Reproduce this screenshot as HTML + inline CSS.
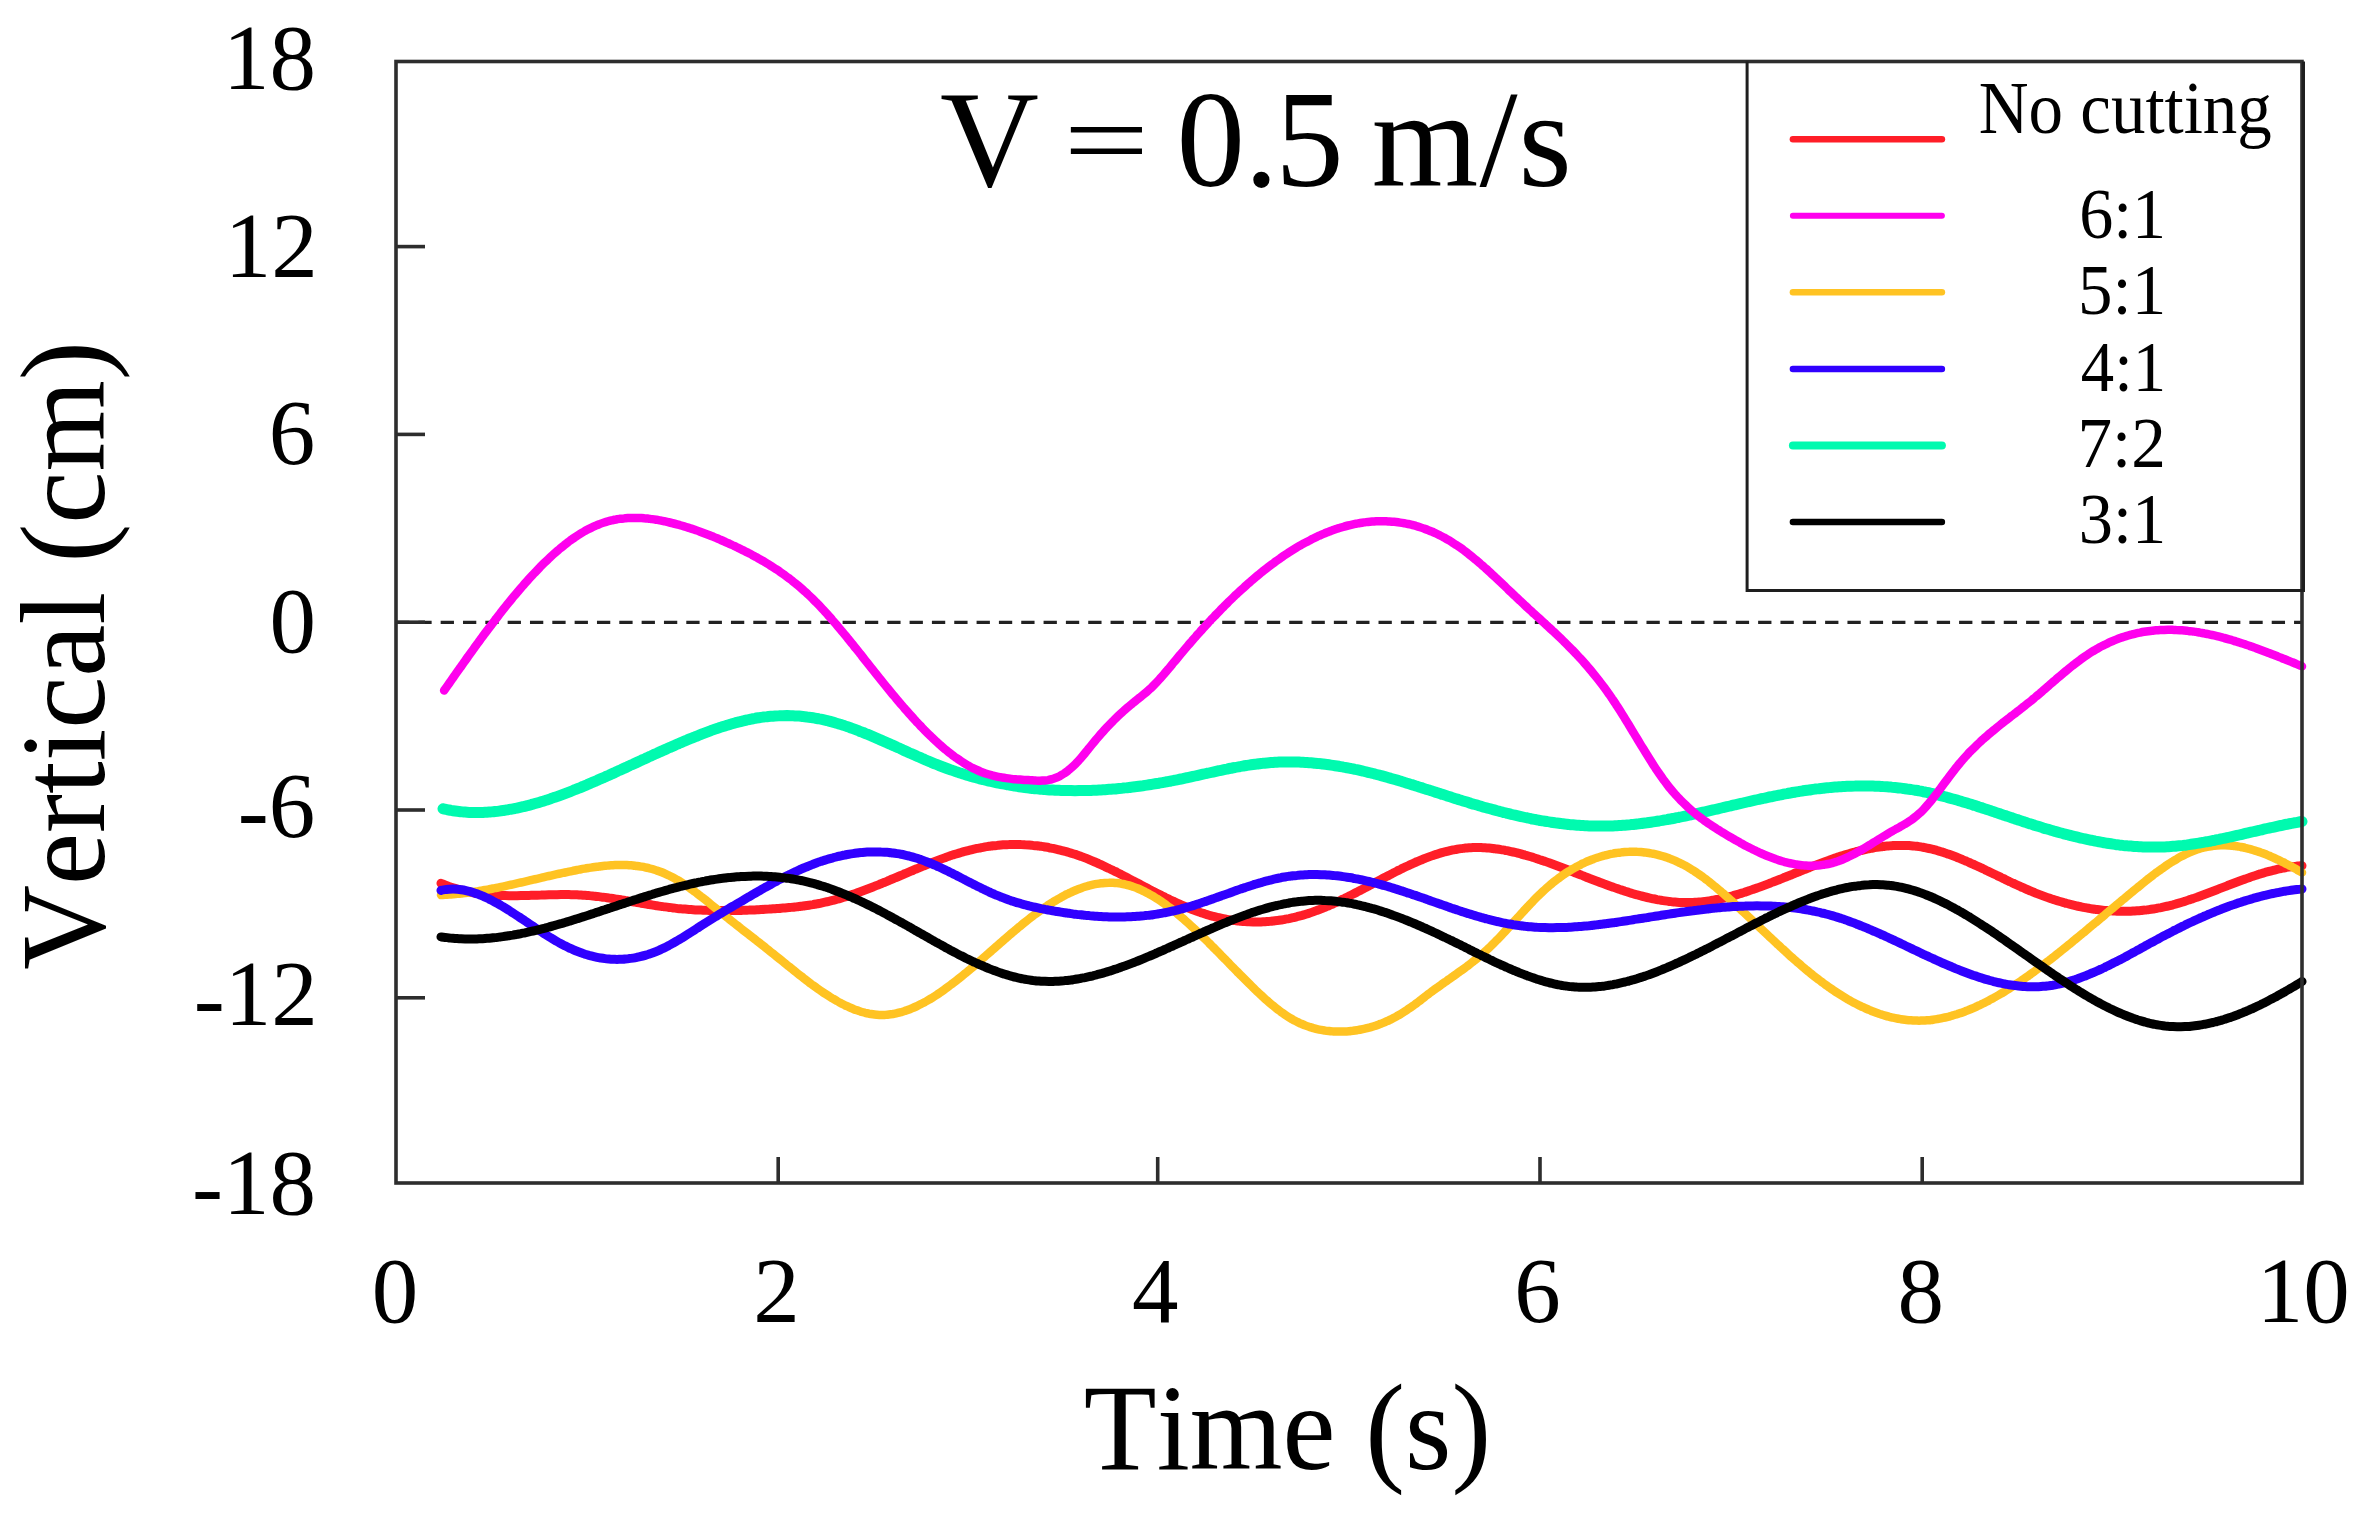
<!DOCTYPE html>
<html><head><meta charset="utf-8"><title>Vertical displacement V = 0.5 m/s</title>
<style>html,body{margin:0;padding:0;background:#fff;overflow:hidden}svg{display:block}text{font-kerning:none}</style>
</head><body>
<svg width="2365" height="1522" viewBox="0 0 2365 1522"><rect width="2365" height="1522" fill="#fff"/><line x1="396" y1="622.3" x2="2302" y2="622.3" stroke="#222" stroke-width="3.2" stroke-dasharray="13.3 9.03"/><path d="M441.0,883.3 C441.7,883.6 443.7,884.4 445.0,885.0 C446.3,885.5 447.7,886.0 449.0,886.5 C450.3,886.9 451.7,887.4 453.0,887.8 C454.3,888.2 455.7,888.6 457.0,889.0 C458.3,889.4 459.7,889.8 461.0,890.1 C462.3,890.5 463.7,890.8 465.0,891.1 C466.3,891.4 467.7,891.7 469.0,891.9 C470.3,892.2 471.7,892.5 473.0,892.7 C474.3,892.9 475.7,893.1 477.0,893.3 C478.3,893.6 479.7,893.7 481.0,893.9 C482.3,894.1 483.7,894.2 485.0,894.4 C486.3,894.5 487.7,894.6 489.0,894.8 C490.3,894.9 491.7,895.0 493.0,895.1 C494.3,895.2 495.7,895.2 497.0,895.3 C498.3,895.4 499.7,895.4 501.0,895.5 C502.3,895.5 503.7,895.6 505.0,895.6 C506.3,895.6 507.7,895.6 509.0,895.7 C510.3,895.7 511.7,895.7 513.0,895.7 C514.3,895.7 515.7,895.7 517.0,895.7 C518.3,895.6 519.7,895.6 521.0,895.6 C522.3,895.6 523.7,895.6 525.0,895.5 C526.3,895.5 527.7,895.5 529.0,895.4 C530.3,895.4 531.7,895.3 533.0,895.3 C534.3,895.3 535.7,895.2 537.0,895.2 C538.3,895.1 539.7,895.1 541.0,895.1 C542.3,895.0 543.7,895.0 545.0,894.9 C546.3,894.9 547.7,894.9 549.0,894.8 C550.3,894.8 551.7,894.8 553.0,894.7 C554.3,894.7 555.7,894.7 557.0,894.7 C558.3,894.6 559.7,894.6 561.0,894.6 C562.3,894.6 563.7,894.6 565.0,894.6 C566.3,894.6 567.7,894.6 569.0,894.6 C570.3,894.6 571.7,894.7 573.0,894.7 C574.3,894.7 575.7,894.8 577.0,894.8 C578.3,894.9 579.7,894.9 581.0,895.0 C582.3,895.1 583.7,895.2 585.0,895.3 C586.3,895.4 587.7,895.5 589.0,895.6 C590.3,895.7 591.7,895.8 593.0,896.0 C594.3,896.1 595.7,896.3 597.0,896.4 C598.3,896.6 599.7,896.7 601.0,896.9 C602.3,897.0 603.7,897.2 605.0,897.4 C606.3,897.6 607.7,897.8 609.0,898.0 C610.3,898.1 611.7,898.3 613.0,898.5 C614.3,898.7 615.7,899.0 617.0,899.2 C618.3,899.4 619.7,899.6 621.0,899.8 C622.3,900.0 623.7,900.2 625.0,900.5 C626.3,900.7 627.7,900.9 629.0,901.1 C630.3,901.4 631.7,901.6 633.0,901.8 C634.3,902.0 635.7,902.3 637.0,902.5 C638.3,902.7 639.7,902.9 641.0,903.2 C642.3,903.4 643.7,903.6 645.0,903.8 C646.3,904.1 647.7,904.3 649.0,904.5 C650.3,904.7 651.7,904.9 653.0,905.1 C654.3,905.4 655.7,905.6 657.0,905.8 C658.3,906.0 659.7,906.2 661.0,906.4 C662.3,906.6 663.7,906.7 665.0,906.9 C666.3,907.1 667.7,907.3 669.0,907.4 C670.3,907.6 671.7,907.8 673.0,907.9 C674.3,908.1 675.7,908.2 677.0,908.4 C678.3,908.5 679.7,908.6 681.0,908.8 C682.3,908.9 683.7,909.0 685.0,909.1 C686.3,909.2 687.7,909.3 689.0,909.4 C690.3,909.5 691.7,909.6 693.0,909.7 C694.3,909.8 695.7,909.9 697.0,909.9 C698.3,910.0 699.7,910.1 701.0,910.1 C702.3,910.2 703.7,910.2 705.0,910.3 C706.3,910.3 707.7,910.4 709.0,910.4 C710.3,910.5 711.7,910.5 713.0,910.5 C714.3,910.5 715.7,910.6 717.0,910.6 C718.3,910.6 719.7,910.6 721.0,910.6 C722.3,910.6 723.7,910.6 725.0,910.6 C726.3,910.6 727.7,910.6 729.0,910.6 C730.3,910.6 731.7,910.6 733.0,910.5 C734.3,910.5 735.7,910.5 737.0,910.5 C738.3,910.4 739.7,910.4 741.0,910.4 C742.3,910.3 743.7,910.3 745.0,910.2 C746.3,910.2 747.7,910.1 749.0,910.1 C750.3,910.0 751.7,910.0 753.0,909.9 C754.3,909.9 755.7,909.8 757.0,909.7 C758.3,909.7 759.7,909.6 761.0,909.5 C762.3,909.5 763.7,909.4 765.0,909.3 C766.3,909.2 767.7,909.1 769.0,909.1 C770.3,909.0 771.7,908.9 773.0,908.8 C774.3,908.7 775.7,908.6 777.0,908.5 C778.3,908.4 779.7,908.4 781.0,908.2 C782.3,908.1 783.7,908.0 785.0,907.9 C786.3,907.8 787.7,907.7 789.0,907.6 C790.3,907.5 791.7,907.3 793.0,907.2 C794.3,907.1 795.7,906.9 797.0,906.8 C798.3,906.6 799.7,906.5 801.0,906.3 C802.3,906.1 803.7,906.0 805.0,905.8 C806.3,905.6 807.7,905.4 809.0,905.2 C810.3,905.0 811.7,904.8 813.0,904.6 C814.3,904.3 815.7,904.1 817.0,903.9 C818.3,903.6 819.7,903.4 821.0,903.1 C822.3,902.8 823.7,902.5 825.0,902.2 C826.3,901.9 827.7,901.6 829.0,901.3 C830.3,901.0 831.7,900.7 833.0,900.3 C834.3,900.0 835.7,899.6 837.0,899.2 C838.3,898.9 839.7,898.5 841.0,898.1 C842.3,897.7 843.7,897.3 845.0,896.9 C846.3,896.5 847.7,896.1 849.0,895.6 C850.3,895.2 851.7,894.8 853.0,894.3 C854.3,893.9 855.7,893.4 857.0,892.9 C858.3,892.5 859.7,892.0 861.0,891.5 C862.3,891.0 863.7,890.5 865.0,890.0 C866.3,889.5 867.7,889.0 869.0,888.5 C870.3,888.0 871.7,887.5 873.0,887.0 C874.3,886.5 875.7,885.9 877.0,885.4 C878.3,884.9 879.7,884.3 881.0,883.8 C882.3,883.2 883.7,882.7 885.0,882.1 C886.3,881.6 887.7,881.0 889.0,880.5 C890.3,879.9 891.7,879.3 893.0,878.8 C894.3,878.2 895.7,877.7 897.0,877.1 C898.3,876.5 899.7,876.0 901.0,875.4 C902.3,874.8 903.7,874.3 905.0,873.7 C906.3,873.1 907.7,872.6 909.0,872.0 C910.3,871.4 911.7,870.9 913.0,870.3 C914.3,869.7 915.7,869.2 917.0,868.6 C918.3,868.1 919.7,867.5 921.0,867.0 C922.3,866.4 923.7,865.9 925.0,865.3 C926.3,864.8 927.7,864.2 929.0,863.7 C930.3,863.2 931.7,862.7 933.0,862.1 C934.3,861.6 935.7,861.1 937.0,860.6 C938.3,860.1 939.7,859.6 941.0,859.1 C942.3,858.6 943.7,858.1 945.0,857.7 C946.3,857.2 947.7,856.7 949.0,856.3 C950.3,855.8 951.7,855.4 953.0,854.9 C954.3,854.5 955.7,854.1 957.0,853.7 C958.3,853.3 959.7,852.9 961.0,852.5 C962.3,852.1 963.7,851.7 965.0,851.3 C966.3,851.0 967.7,850.6 969.0,850.3 C970.3,850.0 971.7,849.6 973.0,849.3 C974.3,849.0 975.7,848.7 977.0,848.4 C978.3,848.2 979.7,847.9 981.0,847.7 C982.3,847.4 983.7,847.2 985.0,846.9 C986.3,846.7 987.7,846.5 989.0,846.3 C990.3,846.1 991.7,846.0 993.0,845.8 C994.3,845.6 995.7,845.5 997.0,845.4 C998.3,845.2 999.7,845.1 1001.0,845.0 C1002.3,844.9 1003.7,844.8 1005.0,844.7 C1006.3,844.7 1007.7,844.6 1009.0,844.6 C1010.3,844.5 1011.7,844.5 1013.0,844.5 C1014.3,844.5 1015.7,844.5 1017.0,844.5 C1018.3,844.5 1019.7,844.5 1021.0,844.6 C1022.3,844.6 1023.7,844.7 1025.0,844.8 C1026.3,844.8 1027.7,844.9 1029.0,845.0 C1030.3,845.1 1031.7,845.2 1033.0,845.4 C1034.3,845.5 1035.7,845.6 1037.0,845.8 C1038.3,846.0 1039.7,846.1 1041.0,846.3 C1042.3,846.5 1043.7,846.7 1045.0,847.0 C1046.3,847.2 1047.7,847.4 1049.0,847.7 C1050.3,847.9 1051.7,848.2 1053.0,848.4 C1054.3,848.7 1055.7,849.0 1057.0,849.3 C1058.3,849.6 1059.7,850.0 1061.0,850.3 C1062.3,850.6 1063.7,851.0 1065.0,851.3 C1066.3,851.7 1067.7,852.1 1069.0,852.5 C1070.3,852.9 1071.7,853.3 1073.0,853.7 C1074.3,854.1 1075.7,854.6 1077.0,855.0 C1078.3,855.5 1079.7,856.0 1081.0,856.4 C1082.3,856.9 1083.7,857.4 1085.0,857.9 C1086.3,858.4 1087.7,859.0 1089.0,859.5 C1090.3,860.1 1091.7,860.6 1093.0,861.2 C1094.3,861.7 1095.7,862.3 1097.0,862.9 C1098.3,863.5 1099.7,864.1 1101.0,864.7 C1102.3,865.3 1103.7,865.9 1105.0,866.6 C1106.3,867.2 1107.7,867.8 1109.0,868.5 C1110.3,869.1 1111.7,869.8 1113.0,870.4 C1114.3,871.1 1115.7,871.7 1117.0,872.4 C1118.3,873.1 1119.7,873.8 1121.0,874.4 C1122.3,875.1 1123.7,875.8 1125.0,876.5 C1126.3,877.2 1127.7,877.9 1129.0,878.6 C1130.3,879.3 1131.7,880.0 1133.0,880.7 C1134.3,881.4 1135.7,882.1 1137.0,882.8 C1138.3,883.5 1139.7,884.2 1141.0,884.9 C1142.3,885.6 1143.7,886.3 1145.0,887.0 C1146.3,887.7 1147.7,888.4 1149.0,889.1 C1150.3,889.8 1151.7,890.5 1153.0,891.2 C1154.3,891.9 1155.7,892.6 1157.0,893.3 C1158.3,893.9 1159.7,894.6 1161.0,895.3 C1162.3,896.0 1163.7,896.6 1165.0,897.3 C1166.3,897.9 1167.7,898.6 1169.0,899.2 C1170.3,899.9 1171.7,900.5 1173.0,901.2 C1174.3,901.8 1175.7,902.4 1177.0,903.0 C1178.3,903.6 1179.7,904.2 1181.0,904.8 C1182.3,905.4 1183.7,906.0 1185.0,906.5 C1186.3,907.1 1187.7,907.7 1189.0,908.2 C1190.3,908.7 1191.7,909.3 1193.0,909.8 C1194.3,910.3 1195.7,910.8 1197.0,911.3 C1198.3,911.8 1199.7,912.2 1201.0,912.7 C1202.3,913.1 1203.7,913.6 1205.0,914.0 C1206.3,914.4 1207.7,914.8 1209.0,915.2 C1210.3,915.6 1211.7,916.0 1213.0,916.3 C1214.3,916.7 1215.7,917.0 1217.0,917.3 C1218.3,917.6 1219.7,917.9 1221.0,918.2 C1222.3,918.5 1223.7,918.8 1225.0,919.0 C1226.3,919.3 1227.7,919.5 1229.0,919.8 C1230.3,920.0 1231.7,920.2 1233.0,920.4 C1234.3,920.6 1235.7,920.7 1237.0,920.9 C1238.3,921.0 1239.7,921.2 1241.0,921.3 C1242.3,921.4 1243.7,921.5 1245.0,921.6 C1246.3,921.7 1247.7,921.8 1249.0,921.8 C1250.3,921.9 1251.7,921.9 1253.0,921.9 C1254.3,922.0 1255.7,922.0 1257.0,922.0 C1258.3,921.9 1259.7,921.9 1261.0,921.9 C1262.3,921.8 1263.7,921.8 1265.0,921.7 C1266.3,921.6 1267.7,921.5 1269.0,921.4 C1270.3,921.3 1271.7,921.2 1273.0,921.0 C1274.3,920.9 1275.7,920.7 1277.0,920.6 C1278.3,920.4 1279.7,920.2 1281.0,920.0 C1282.3,919.8 1283.7,919.6 1285.0,919.3 C1286.3,919.1 1287.7,918.8 1289.0,918.6 C1290.3,918.3 1291.7,918.0 1293.0,917.7 C1294.3,917.4 1295.7,917.1 1297.0,916.7 C1298.3,916.4 1299.7,916.0 1301.0,915.7 C1302.3,915.3 1303.7,914.9 1305.0,914.5 C1306.3,914.1 1307.7,913.7 1309.0,913.2 C1310.3,912.8 1311.7,912.4 1313.0,911.9 C1314.3,911.4 1315.7,910.9 1317.0,910.4 C1318.3,910.0 1319.7,909.4 1321.0,908.9 C1322.3,908.4 1323.7,907.8 1325.0,907.3 C1326.3,906.7 1327.7,906.2 1329.0,905.6 C1330.3,905.0 1331.7,904.4 1333.0,903.8 C1334.3,903.2 1335.7,902.6 1337.0,902.0 C1338.3,901.4 1339.7,900.7 1341.0,900.1 C1342.3,899.4 1343.7,898.8 1345.0,898.1 C1346.3,897.5 1347.7,896.8 1349.0,896.1 C1350.3,895.5 1351.7,894.8 1353.0,894.1 C1354.3,893.4 1355.7,892.7 1357.0,892.1 C1358.3,891.4 1359.7,890.7 1361.0,890.0 C1362.3,889.3 1363.7,888.6 1365.0,887.9 C1366.3,887.2 1367.7,886.4 1369.0,885.7 C1370.3,885.0 1371.7,884.3 1373.0,883.6 C1374.3,882.9 1375.7,882.2 1377.0,881.5 C1378.3,880.8 1379.7,880.1 1381.0,879.4 C1382.3,878.7 1383.7,878.0 1385.0,877.3 C1386.3,876.6 1387.7,875.9 1389.0,875.2 C1390.3,874.5 1391.7,873.8 1393.0,873.1 C1394.3,872.5 1395.7,871.8 1397.0,871.1 C1398.3,870.4 1399.7,869.8 1401.0,869.1 C1402.3,868.5 1403.7,867.8 1405.0,867.2 C1406.3,866.6 1407.7,865.9 1409.0,865.3 C1410.3,864.7 1411.7,864.1 1413.0,863.5 C1414.3,862.9 1415.7,862.3 1417.0,861.7 C1418.3,861.1 1419.7,860.6 1421.0,860.0 C1422.3,859.5 1423.7,859.0 1425.0,858.4 C1426.3,857.9 1427.7,857.4 1429.0,856.9 C1430.3,856.4 1431.7,855.9 1433.0,855.5 C1434.3,855.0 1435.7,854.6 1437.0,854.2 C1438.3,853.7 1439.7,853.3 1441.0,852.9 C1442.3,852.5 1443.7,852.2 1445.0,851.8 C1446.3,851.5 1447.7,851.1 1449.0,850.8 C1450.3,850.5 1451.7,850.2 1453.0,849.9 C1454.3,849.7 1455.7,849.4 1457.0,849.2 C1458.3,849.0 1459.7,848.8 1461.0,848.6 C1462.3,848.4 1463.7,848.3 1465.0,848.1 C1466.3,848.0 1467.7,847.9 1469.0,847.8 C1470.3,847.7 1471.7,847.7 1473.0,847.6 C1474.3,847.6 1475.7,847.6 1477.0,847.6 C1478.3,847.6 1479.7,847.6 1481.0,847.6 C1482.3,847.7 1483.7,847.7 1485.0,847.8 C1486.3,847.9 1487.7,848.0 1489.0,848.1 C1490.3,848.2 1491.7,848.4 1493.0,848.5 C1494.3,848.7 1495.7,848.8 1497.0,849.0 C1498.3,849.2 1499.7,849.4 1501.0,849.6 C1502.3,849.8 1503.7,850.1 1505.0,850.3 C1506.3,850.6 1507.7,850.8 1509.0,851.1 C1510.3,851.4 1511.7,851.7 1513.0,852.0 C1514.3,852.3 1515.7,852.6 1517.0,852.9 C1518.3,853.3 1519.7,853.6 1521.0,854.0 C1522.3,854.3 1523.7,854.7 1525.0,855.1 C1526.3,855.4 1527.7,855.8 1529.0,856.2 C1530.3,856.6 1531.7,857.0 1533.0,857.4 C1534.3,857.9 1535.7,858.3 1537.0,858.7 C1538.3,859.2 1539.7,859.6 1541.0,860.1 C1542.3,860.5 1543.7,861.0 1545.0,861.4 C1546.3,861.9 1547.7,862.4 1549.0,862.8 C1550.3,863.3 1551.7,863.8 1553.0,864.3 C1554.3,864.8 1555.7,865.3 1557.0,865.8 C1558.3,866.3 1559.7,866.8 1561.0,867.3 C1562.3,867.8 1563.7,868.3 1565.0,868.8 C1566.3,869.3 1567.7,869.8 1569.0,870.3 C1570.3,870.9 1571.7,871.4 1573.0,871.9 C1574.3,872.4 1575.7,872.9 1577.0,873.5 C1578.3,874.0 1579.7,874.5 1581.0,875.0 C1582.3,875.6 1583.7,876.1 1585.0,876.6 C1586.3,877.1 1587.7,877.6 1589.0,878.2 C1590.3,878.7 1591.7,879.2 1593.0,879.7 C1594.3,880.2 1595.7,880.7 1597.0,881.2 C1598.3,881.7 1599.7,882.3 1601.0,882.8 C1602.3,883.3 1603.7,883.8 1605.0,884.2 C1606.3,884.7 1607.7,885.2 1609.0,885.7 C1610.3,886.2 1611.7,886.7 1613.0,887.1 C1614.3,887.6 1615.7,888.1 1617.0,888.5 C1618.3,889.0 1619.7,889.4 1621.0,889.9 C1622.3,890.3 1623.7,890.8 1625.0,891.2 C1626.3,891.6 1627.7,892.1 1629.0,892.5 C1630.3,892.9 1631.7,893.3 1633.0,893.7 C1634.3,894.1 1635.7,894.5 1637.0,894.8 C1638.3,895.2 1639.7,895.6 1641.0,895.9 C1642.3,896.3 1643.7,896.6 1645.0,896.9 C1646.3,897.3 1647.7,897.6 1649.0,897.9 C1650.3,898.2 1651.7,898.5 1653.0,898.8 C1654.3,899.0 1655.7,899.3 1657.0,899.6 C1658.3,899.8 1659.7,900.1 1661.0,900.3 C1662.3,900.5 1663.7,900.7 1665.0,900.9 C1666.3,901.1 1667.7,901.3 1669.0,901.4 C1670.3,901.6 1671.7,901.7 1673.0,901.9 C1674.3,902.0 1675.7,902.1 1677.0,902.2 C1678.3,902.3 1679.7,902.4 1681.0,902.4 C1682.3,902.5 1683.7,902.5 1685.0,902.6 C1686.3,902.6 1687.7,902.6 1689.0,902.6 C1690.3,902.5 1691.7,902.5 1693.0,902.5 C1694.3,902.4 1695.7,902.3 1697.0,902.2 C1698.3,902.1 1699.7,902.0 1701.0,901.9 C1702.3,901.8 1703.7,901.6 1705.0,901.4 C1706.3,901.3 1707.7,901.1 1709.0,900.9 C1710.3,900.7 1711.7,900.5 1713.0,900.2 C1714.3,900.0 1715.7,899.8 1717.0,899.5 C1718.3,899.2 1719.7,899.0 1721.0,898.7 C1722.3,898.4 1723.7,898.1 1725.0,897.8 C1726.3,897.5 1727.7,897.1 1729.0,896.8 C1730.3,896.4 1731.7,896.1 1733.0,895.7 C1734.3,895.4 1735.7,895.0 1737.0,894.6 C1738.3,894.2 1739.7,893.8 1741.0,893.4 C1742.3,893.0 1743.7,892.6 1745.0,892.1 C1746.3,891.7 1747.7,891.3 1749.0,890.8 C1750.3,890.4 1751.7,889.9 1753.0,889.4 C1754.3,889.0 1755.7,888.5 1757.0,888.0 C1758.3,887.6 1759.7,887.1 1761.0,886.6 C1762.3,886.1 1763.7,885.6 1765.0,885.1 C1766.3,884.6 1767.7,884.1 1769.0,883.6 C1770.3,883.1 1771.7,882.6 1773.0,882.0 C1774.3,881.5 1775.7,881.0 1777.0,880.5 C1778.3,879.9 1779.7,879.4 1781.0,878.9 C1782.3,878.4 1783.7,877.8 1785.0,877.3 C1786.3,876.7 1787.7,876.2 1789.0,875.7 C1790.3,875.1 1791.7,874.6 1793.0,874.1 C1794.3,873.5 1795.7,873.0 1797.0,872.5 C1798.3,871.9 1799.7,871.4 1801.0,870.9 C1802.3,870.3 1803.7,869.8 1805.0,869.3 C1806.3,868.7 1807.7,868.2 1809.0,867.7 C1810.3,867.2 1811.7,866.6 1813.0,866.1 C1814.3,865.6 1815.7,865.1 1817.0,864.6 C1818.3,864.1 1819.7,863.6 1821.0,863.1 C1822.3,862.6 1823.7,862.1 1825.0,861.6 C1826.3,861.1 1827.7,860.6 1829.0,860.2 C1830.3,859.7 1831.7,859.2 1833.0,858.8 C1834.3,858.3 1835.7,857.9 1837.0,857.4 C1838.3,857.0 1839.7,856.5 1841.0,856.1 C1842.3,855.7 1843.7,855.3 1845.0,854.9 C1846.3,854.5 1847.7,854.1 1849.0,853.7 C1850.3,853.3 1851.7,852.9 1853.0,852.5 C1854.3,852.2 1855.7,851.8 1857.0,851.5 C1858.3,851.1 1859.7,850.8 1861.0,850.5 C1862.3,850.2 1863.7,849.9 1865.0,849.6 C1866.3,849.3 1867.7,849.0 1869.0,848.7 C1870.3,848.5 1871.7,848.2 1873.0,848.0 C1874.3,847.7 1875.7,847.5 1877.0,847.3 C1878.3,847.1 1879.7,846.9 1881.0,846.7 C1882.3,846.5 1883.7,846.4 1885.0,846.2 C1886.3,846.1 1887.7,846.0 1889.0,845.9 C1890.3,845.7 1891.7,845.7 1893.0,845.6 C1894.3,845.5 1895.7,845.4 1897.0,845.4 C1898.3,845.4 1899.7,845.4 1901.0,845.4 C1902.3,845.4 1903.7,845.4 1905.0,845.4 C1906.3,845.5 1907.7,845.5 1909.0,845.6 C1910.3,845.7 1911.7,845.8 1913.0,845.9 C1914.3,846.0 1915.7,846.2 1917.0,846.3 C1918.3,846.5 1919.7,846.7 1921.0,846.9 C1922.3,847.1 1923.7,847.4 1925.0,847.6 C1926.3,847.9 1927.7,848.2 1929.0,848.5 C1930.3,848.8 1931.7,849.1 1933.0,849.4 C1934.3,849.8 1935.7,850.1 1937.0,850.5 C1938.3,850.9 1939.7,851.3 1941.0,851.7 C1942.3,852.1 1943.7,852.5 1945.0,853.0 C1946.3,853.4 1947.7,853.9 1949.0,854.3 C1950.3,854.8 1951.7,855.3 1953.0,855.8 C1954.3,856.3 1955.7,856.8 1957.0,857.3 C1958.3,857.9 1959.7,858.4 1961.0,859.0 C1962.3,859.5 1963.7,860.1 1965.0,860.6 C1966.3,861.2 1967.7,861.8 1969.0,862.4 C1970.3,863.0 1971.7,863.6 1973.0,864.2 C1974.3,864.8 1975.7,865.4 1977.0,866.0 C1978.3,866.6 1979.7,867.2 1981.0,867.8 C1982.3,868.5 1983.7,869.1 1985.0,869.7 C1986.3,870.4 1987.7,871.0 1989.0,871.7 C1990.3,872.3 1991.7,872.9 1993.0,873.6 C1994.3,874.2 1995.7,874.9 1997.0,875.5 C1998.3,876.2 1999.7,876.8 2001.0,877.4 C2002.3,878.1 2003.7,878.7 2005.0,879.4 C2006.3,880.0 2007.7,880.6 2009.0,881.3 C2010.3,881.9 2011.7,882.5 2013.0,883.2 C2014.3,883.8 2015.7,884.4 2017.0,885.0 C2018.3,885.6 2019.7,886.2 2021.0,886.8 C2022.3,887.4 2023.7,888.0 2025.0,888.6 C2026.3,889.2 2027.7,889.8 2029.0,890.3 C2030.3,890.9 2031.7,891.4 2033.0,892.0 C2034.3,892.5 2035.7,893.1 2037.0,893.6 C2038.3,894.1 2039.7,894.6 2041.0,895.1 C2042.3,895.6 2043.7,896.1 2045.0,896.6 C2046.3,897.1 2047.7,897.6 2049.0,898.0 C2050.3,898.5 2051.7,898.9 2053.0,899.4 C2054.3,899.8 2055.7,900.2 2057.0,900.6 C2058.3,901.0 2059.7,901.4 2061.0,901.8 C2062.3,902.2 2063.7,902.6 2065.0,903.0 C2066.3,903.3 2067.7,903.7 2069.0,904.0 C2070.3,904.4 2071.7,904.7 2073.0,905.0 C2074.3,905.4 2075.7,905.7 2077.0,906.0 C2078.3,906.3 2079.7,906.6 2081.0,906.8 C2082.3,907.1 2083.7,907.4 2085.0,907.6 C2086.3,907.9 2087.7,908.1 2089.0,908.3 C2090.3,908.6 2091.7,908.8 2093.0,909.0 C2094.3,909.2 2095.7,909.3 2097.0,909.5 C2098.3,909.7 2099.7,909.9 2101.0,910.0 C2102.3,910.2 2103.7,910.3 2105.0,910.4 C2106.3,910.5 2107.7,910.6 2109.0,910.7 C2110.3,910.8 2111.7,910.9 2113.0,911.0 C2114.3,911.1 2115.7,911.1 2117.0,911.2 C2118.3,911.2 2119.7,911.2 2121.0,911.3 C2122.3,911.3 2123.7,911.3 2125.0,911.3 C2126.3,911.3 2127.7,911.2 2129.0,911.2 C2130.3,911.2 2131.7,911.1 2133.0,911.0 C2134.3,911.0 2135.7,910.9 2137.0,910.8 C2138.3,910.7 2139.7,910.6 2141.0,910.5 C2142.3,910.4 2143.7,910.2 2145.0,910.1 C2146.3,909.9 2147.7,909.8 2149.0,909.6 C2150.3,909.4 2151.7,909.2 2153.0,909.0 C2154.3,908.8 2155.7,908.6 2157.0,908.3 C2158.3,908.1 2159.7,907.8 2161.0,907.6 C2162.3,907.3 2163.7,907.0 2165.0,906.7 C2166.3,906.4 2167.7,906.1 2169.0,905.8 C2170.3,905.5 2171.7,905.1 2173.0,904.8 C2174.3,904.4 2175.7,904.0 2177.0,903.6 C2178.3,903.3 2179.7,902.9 2181.0,902.5 C2182.3,902.1 2183.7,901.7 2185.0,901.2 C2186.3,900.8 2187.7,900.4 2189.0,899.9 C2190.3,899.5 2191.7,899.0 2193.0,898.6 C2194.3,898.1 2195.7,897.6 2197.0,897.2 C2198.3,896.7 2199.7,896.2 2201.0,895.7 C2202.3,895.2 2203.7,894.7 2205.0,894.2 C2206.3,893.7 2207.7,893.2 2209.0,892.7 C2210.3,892.2 2211.7,891.7 2213.0,891.2 C2214.3,890.7 2215.7,890.2 2217.0,889.7 C2218.3,889.2 2219.7,888.6 2221.0,888.1 C2222.3,887.6 2223.7,887.1 2225.0,886.6 C2226.3,886.1 2227.7,885.5 2229.0,885.0 C2230.3,884.5 2231.7,884.0 2233.0,883.5 C2234.3,883.0 2235.7,882.5 2237.0,882.0 C2238.3,881.5 2239.7,881.0 2241.0,880.5 C2242.3,880.0 2243.7,879.5 2245.0,879.1 C2246.3,878.6 2247.7,878.1 2249.0,877.7 C2250.3,877.2 2251.7,876.7 2253.0,876.3 C2254.3,875.8 2255.7,875.4 2257.0,875.0 C2258.3,874.5 2259.7,874.1 2261.0,873.7 C2262.3,873.3 2263.7,872.9 2265.0,872.5 C2266.3,872.1 2267.7,871.8 2269.0,871.4 C2270.3,871.0 2271.7,870.7 2273.0,870.4 C2274.3,870.0 2275.7,869.7 2277.0,869.4 C2278.3,869.1 2279.7,868.8 2281.0,868.5 C2282.3,868.3 2283.7,868.0 2285.0,867.8 C2286.3,867.5 2287.7,867.3 2289.0,867.1 C2290.3,866.9 2291.7,866.7 2293.0,866.6 C2294.3,866.4 2295.7,866.3 2297.0,866.1 C2298.3,866.0 2300.2,865.9 2301.0,865.8 C2301.8,865.8 2301.8,865.8 2302.0,865.8" fill="none" stroke="#ff1e28" stroke-width="9" stroke-linecap="round" stroke-linejoin="round"/><path d="M441.0,895.0 C441.7,894.9 443.7,894.9 445.0,894.8 C446.3,894.7 447.7,894.7 449.0,894.6 C450.3,894.5 451.7,894.4 453.0,894.3 C454.3,894.2 455.7,894.1 457.0,893.9 C458.3,893.8 459.7,893.7 461.0,893.5 C462.3,893.4 463.7,893.2 465.0,893.1 C466.3,892.9 467.7,892.7 469.0,892.6 C470.3,892.4 471.7,892.2 473.0,892.0 C474.3,891.8 475.7,891.6 477.0,891.4 C478.3,891.2 479.7,891.0 481.0,890.7 C482.3,890.5 483.7,890.3 485.0,890.0 C486.3,889.8 487.7,889.6 489.0,889.3 C490.3,889.1 491.7,888.8 493.0,888.5 C494.3,888.3 495.7,888.0 497.0,887.8 C498.3,887.5 499.7,887.2 501.0,886.9 C502.3,886.7 503.7,886.4 505.0,886.1 C506.3,885.8 507.7,885.5 509.0,885.2 C510.3,884.9 511.7,884.6 513.0,884.3 C514.3,884.0 515.7,883.7 517.0,883.4 C518.3,883.1 519.7,882.8 521.0,882.5 C522.3,882.2 523.7,881.9 525.0,881.6 C526.3,881.3 527.7,881.0 529.0,880.7 C530.3,880.4 531.7,880.0 533.0,879.7 C534.3,879.4 535.7,879.1 537.0,878.8 C538.3,878.5 539.7,878.2 541.0,877.9 C542.3,877.6 543.7,877.2 545.0,876.9 C546.3,876.6 547.7,876.3 549.0,876.0 C550.3,875.7 551.7,875.4 553.0,875.1 C554.3,874.8 555.7,874.5 557.0,874.2 C558.3,873.9 559.7,873.6 561.0,873.3 C562.3,873.0 563.7,872.8 565.0,872.5 C566.3,872.2 567.7,871.9 569.0,871.6 C570.3,871.4 571.7,871.1 573.0,870.8 C574.3,870.6 575.7,870.3 577.0,870.0 C578.3,869.8 579.7,869.5 581.0,869.3 C582.3,869.0 583.7,868.8 585.0,868.6 C586.3,868.3 587.7,868.1 589.0,867.9 C590.3,867.7 591.7,867.5 593.0,867.3 C594.3,867.1 595.7,866.9 597.0,866.7 C598.3,866.5 599.7,866.4 601.0,866.2 C602.3,866.1 603.7,865.9 605.0,865.8 C606.3,865.7 607.7,865.5 609.0,865.4 C610.3,865.3 611.7,865.3 613.0,865.2 C614.3,865.1 615.7,865.1 617.0,865.0 C618.3,865.0 619.7,865.0 621.0,865.0 C622.3,865.0 623.7,865.0 625.0,865.0 C626.3,865.1 627.7,865.1 629.0,865.2 C630.3,865.3 631.7,865.4 633.0,865.5 C634.3,865.7 635.7,865.8 637.0,866.0 C638.3,866.2 639.7,866.4 641.0,866.6 C642.3,866.8 643.7,867.0 645.0,867.3 C646.3,867.6 647.7,867.9 649.0,868.2 C650.3,868.6 651.7,868.9 653.0,869.3 C654.3,869.7 655.7,870.1 657.0,870.6 C658.3,871.0 659.7,871.5 661.0,872.0 C662.3,872.5 663.7,873.1 665.0,873.6 C666.3,874.2 667.7,874.8 669.0,875.5 C670.3,876.1 671.7,876.8 673.0,877.5 C674.3,878.2 675.7,879.0 677.0,879.8 C678.3,880.5 679.7,881.3 681.0,882.2 C682.3,883.0 683.7,883.9 685.0,884.8 C686.3,885.7 687.7,886.6 689.0,887.5 C690.3,888.5 691.7,889.4 693.0,890.4 C694.3,891.4 695.7,892.4 697.0,893.4 C698.3,894.4 699.7,895.4 701.0,896.5 C702.3,897.5 703.7,898.5 705.0,899.6 C706.3,900.7 707.7,901.7 709.0,902.8 C710.3,903.9 711.7,905.0 713.0,906.1 C714.3,907.1 715.7,908.2 717.0,909.3 C718.3,910.4 719.7,911.5 721.0,912.6 C722.3,913.6 723.7,914.7 725.0,915.8 C726.3,916.9 727.7,917.9 729.0,919.0 C730.3,920.1 731.7,921.1 733.0,922.2 C734.3,923.2 735.7,924.3 737.0,925.3 C738.3,926.4 739.7,927.4 741.0,928.5 C742.3,929.5 743.7,930.6 745.0,931.6 C746.3,932.6 747.7,933.7 749.0,934.7 C750.3,935.8 751.7,936.8 753.0,937.8 C754.3,938.9 755.7,939.9 757.0,941.0 C758.3,942.0 759.7,943.0 761.0,944.1 C762.3,945.1 763.7,946.2 765.0,947.2 C766.3,948.3 767.7,949.4 769.0,950.4 C770.3,951.5 771.7,952.6 773.0,953.6 C774.3,954.7 775.7,955.8 777.0,956.9 C778.3,957.9 779.7,959.0 781.0,960.1 C782.3,961.2 783.7,962.3 785.0,963.3 C786.3,964.4 787.7,965.5 789.0,966.6 C790.3,967.7 791.7,968.7 793.0,969.8 C794.3,970.9 795.7,971.9 797.0,973.0 C798.3,974.0 799.7,975.1 801.0,976.1 C802.3,977.2 803.7,978.2 805.0,979.2 C806.3,980.3 807.7,981.3 809.0,982.3 C810.3,983.3 811.7,984.3 813.0,985.3 C814.3,986.2 815.7,987.2 817.0,988.2 C818.3,989.1 819.7,990.0 821.0,991.0 C822.3,991.9 823.7,992.8 825.0,993.7 C826.3,994.5 827.7,995.4 829.0,996.2 C830.3,997.1 831.7,997.9 833.0,998.7 C834.3,999.5 835.7,1000.3 837.0,1001.0 C838.3,1001.8 839.7,1002.5 841.0,1003.2 C842.3,1003.9 843.7,1004.6 845.0,1005.3 C846.3,1005.9 847.7,1006.5 849.0,1007.1 C850.3,1007.7 851.7,1008.3 853.0,1008.8 C854.3,1009.4 855.7,1009.9 857.0,1010.3 C858.3,1010.8 859.7,1011.2 861.0,1011.7 C862.3,1012.1 863.7,1012.4 865.0,1012.8 C866.3,1013.1 867.7,1013.4 869.0,1013.7 C870.3,1013.9 871.7,1014.1 873.0,1014.3 C874.3,1014.5 875.7,1014.6 877.0,1014.7 C878.3,1014.8 879.7,1014.9 881.0,1014.9 C882.3,1014.9 883.7,1014.9 885.0,1014.9 C886.3,1014.8 887.7,1014.7 889.0,1014.5 C890.3,1014.4 891.7,1014.2 893.0,1014.0 C894.3,1013.7 895.7,1013.5 897.0,1013.2 C898.3,1012.9 899.7,1012.5 901.0,1012.2 C902.3,1011.8 903.7,1011.4 905.0,1010.9 C906.3,1010.5 907.7,1010.0 909.0,1009.5 C910.3,1009.0 911.7,1008.5 913.0,1007.9 C914.3,1007.3 915.7,1006.7 917.0,1006.1 C918.3,1005.5 919.7,1004.8 921.0,1004.1 C922.3,1003.4 923.7,1002.7 925.0,1002.0 C926.3,1001.2 927.7,1000.5 929.0,999.7 C930.3,998.9 931.7,998.1 933.0,997.3 C934.3,996.4 935.7,995.6 937.0,994.7 C938.3,993.8 939.7,992.9 941.0,992.0 C942.3,991.1 943.7,990.1 945.0,989.1 C946.3,988.2 947.7,987.2 949.0,986.2 C950.3,985.2 951.7,984.2 953.0,983.2 C954.3,982.2 955.7,981.1 957.0,980.1 C958.3,979.0 959.7,977.9 961.0,976.9 C962.3,975.8 963.7,974.7 965.0,973.6 C966.3,972.5 967.7,971.4 969.0,970.3 C970.3,969.1 971.7,968.0 973.0,966.9 C974.3,965.7 975.7,964.6 977.0,963.4 C978.3,962.3 979.7,961.1 981.0,960.0 C982.3,958.8 983.7,957.6 985.0,956.5 C986.3,955.3 987.7,954.1 989.0,953.0 C990.3,951.8 991.7,950.6 993.0,949.4 C994.3,948.3 995.7,947.1 997.0,945.9 C998.3,944.8 999.7,943.6 1001.0,942.4 C1002.3,941.3 1003.7,940.1 1005.0,938.9 C1006.3,937.8 1007.7,936.6 1009.0,935.5 C1010.3,934.3 1011.7,933.2 1013.0,932.1 C1014.3,930.9 1015.7,929.8 1017.0,928.7 C1018.3,927.6 1019.7,926.5 1021.0,925.4 C1022.3,924.3 1023.7,923.2 1025.0,922.2 C1026.3,921.1 1027.7,920.0 1029.0,919.0 C1030.3,918.0 1031.7,916.9 1033.0,915.9 C1034.3,914.9 1035.7,913.9 1037.0,912.9 C1038.3,912.0 1039.7,911.0 1041.0,910.1 C1042.3,909.1 1043.7,908.2 1045.0,907.3 C1046.3,906.4 1047.7,905.5 1049.0,904.6 C1050.3,903.7 1051.7,902.9 1053.0,902.1 C1054.3,901.2 1055.7,900.4 1057.0,899.7 C1058.3,898.9 1059.7,898.1 1061.0,897.4 C1062.3,896.6 1063.7,895.9 1065.0,895.2 C1066.3,894.5 1067.7,893.9 1069.0,893.2 C1070.3,892.6 1071.7,892.0 1073.0,891.4 C1074.3,890.8 1075.7,890.2 1077.0,889.7 C1078.3,889.1 1079.7,888.6 1081.0,888.2 C1082.3,887.7 1083.7,887.2 1085.0,886.8 C1086.3,886.4 1087.7,886.0 1089.0,885.6 C1090.3,885.3 1091.7,885.0 1093.0,884.7 C1094.3,884.4 1095.7,884.1 1097.0,883.9 C1098.3,883.7 1099.7,883.5 1101.0,883.3 C1102.3,883.1 1103.7,883.0 1105.0,882.9 C1106.3,882.8 1107.7,882.8 1109.0,882.8 C1110.3,882.7 1111.7,882.8 1113.0,882.8 C1114.3,882.9 1115.7,883.0 1117.0,883.1 C1118.3,883.2 1119.7,883.4 1121.0,883.6 C1122.3,883.9 1123.7,884.1 1125.0,884.4 C1126.3,884.7 1127.7,885.0 1129.0,885.4 C1130.3,885.8 1131.7,886.2 1133.0,886.7 C1134.3,887.1 1135.7,887.6 1137.0,888.1 C1138.3,888.7 1139.7,889.2 1141.0,889.8 C1142.3,890.4 1143.7,891.1 1145.0,891.8 C1146.3,892.4 1147.7,893.1 1149.0,893.9 C1150.3,894.6 1151.7,895.4 1153.0,896.2 C1154.3,897.0 1155.7,897.8 1157.0,898.7 C1158.3,899.5 1159.7,900.4 1161.0,901.3 C1162.3,902.2 1163.7,903.2 1165.0,904.1 C1166.3,905.1 1167.7,906.1 1169.0,907.1 C1170.3,908.1 1171.7,909.1 1173.0,910.2 C1174.3,911.3 1175.7,912.3 1177.0,913.5 C1178.3,914.6 1179.7,915.7 1181.0,916.8 C1182.3,918.0 1183.7,919.1 1185.0,920.3 C1186.3,921.5 1187.7,922.7 1189.0,923.9 C1190.3,925.1 1191.7,926.3 1193.0,927.6 C1194.3,928.8 1195.7,930.1 1197.0,931.3 C1198.3,932.6 1199.7,933.9 1201.0,935.2 C1202.3,936.5 1203.7,937.8 1205.0,939.1 C1206.3,940.4 1207.7,941.7 1209.0,943.0 C1210.3,944.4 1211.7,945.7 1213.0,947.0 C1214.3,948.4 1215.7,949.7 1217.0,951.1 C1218.3,952.4 1219.7,953.8 1221.0,955.2 C1222.3,956.5 1223.7,957.9 1225.0,959.2 C1226.3,960.6 1227.7,962.0 1229.0,963.3 C1230.3,964.7 1231.7,966.1 1233.0,967.4 C1234.3,968.8 1235.7,970.2 1237.0,971.5 C1238.3,972.9 1239.7,974.2 1241.0,975.6 C1242.3,976.9 1243.7,978.3 1245.0,979.6 C1246.3,980.9 1247.7,982.3 1249.0,983.6 C1250.3,984.9 1251.7,986.2 1253.0,987.5 C1254.3,988.8 1255.7,990.1 1257.0,991.4 C1258.3,992.6 1259.7,993.9 1261.0,995.1 C1262.3,996.4 1263.7,997.6 1265.0,998.8 C1266.3,1000.0 1267.7,1001.1 1269.0,1002.3 C1270.3,1003.4 1271.7,1004.6 1273.0,1005.6 C1274.3,1006.7 1275.7,1007.8 1277.0,1008.9 C1278.3,1009.9 1279.7,1010.9 1281.0,1011.9 C1282.3,1012.8 1283.7,1013.8 1285.0,1014.7 C1286.3,1015.6 1287.7,1016.5 1289.0,1017.3 C1290.3,1018.1 1291.7,1018.9 1293.0,1019.7 C1294.3,1020.4 1295.7,1021.1 1297.0,1021.8 C1298.3,1022.5 1299.7,1023.1 1301.0,1023.7 C1302.3,1024.3 1303.7,1024.8 1305.0,1025.4 C1306.3,1025.9 1307.7,1026.4 1309.0,1026.8 C1310.3,1027.2 1311.7,1027.7 1313.0,1028.0 C1314.3,1028.4 1315.7,1028.8 1317.0,1029.1 C1318.3,1029.4 1319.7,1029.7 1321.0,1029.9 C1322.3,1030.2 1323.7,1030.4 1325.0,1030.6 C1326.3,1030.8 1327.7,1030.9 1329.0,1031.0 C1330.3,1031.2 1331.7,1031.3 1333.0,1031.4 C1334.3,1031.4 1335.7,1031.5 1337.0,1031.5 C1338.3,1031.6 1339.7,1031.6 1341.0,1031.5 C1342.3,1031.5 1343.7,1031.5 1345.0,1031.4 C1346.3,1031.4 1347.7,1031.3 1349.0,1031.2 C1350.3,1031.1 1351.7,1030.9 1353.0,1030.8 C1354.3,1030.6 1355.7,1030.4 1357.0,1030.2 C1358.3,1030.0 1359.7,1029.8 1361.0,1029.5 C1362.3,1029.3 1363.7,1029.0 1365.0,1028.7 C1366.3,1028.4 1367.7,1028.0 1369.0,1027.7 C1370.3,1027.3 1371.7,1026.9 1373.0,1026.5 C1374.3,1026.1 1375.7,1025.7 1377.0,1025.2 C1378.3,1024.7 1379.7,1024.3 1381.0,1023.7 C1382.3,1023.2 1383.7,1022.7 1385.0,1022.1 C1386.3,1021.5 1387.7,1020.9 1389.0,1020.3 C1390.3,1019.6 1391.7,1019.0 1393.0,1018.3 C1394.3,1017.6 1395.7,1016.9 1397.0,1016.1 C1398.3,1015.4 1399.7,1014.6 1401.0,1013.8 C1402.3,1013.0 1403.7,1012.2 1405.0,1011.3 C1406.3,1010.4 1407.7,1009.5 1409.0,1008.6 C1410.3,1007.7 1411.7,1006.7 1413.0,1005.8 C1414.3,1004.8 1415.7,1003.8 1417.0,1002.8 C1418.3,1001.8 1419.7,1000.8 1421.0,999.8 C1422.3,998.8 1423.7,997.8 1425.0,996.7 C1426.3,995.7 1427.7,994.7 1429.0,993.7 C1430.3,992.7 1431.7,991.7 1433.0,990.7 C1434.3,989.7 1435.7,988.7 1437.0,987.8 C1438.3,986.8 1439.7,985.8 1441.0,984.9 C1442.3,983.9 1443.7,983.0 1445.0,982.1 C1446.3,981.1 1447.7,980.2 1449.0,979.2 C1450.3,978.3 1451.7,977.4 1453.0,976.4 C1454.3,975.5 1455.7,974.6 1457.0,973.6 C1458.3,972.7 1459.7,971.7 1461.0,970.7 C1462.3,969.8 1463.7,968.8 1465.0,967.8 C1466.3,966.8 1467.7,965.8 1469.0,964.8 C1470.3,963.8 1471.7,962.7 1473.0,961.7 C1474.3,960.6 1475.7,959.6 1477.0,958.5 C1478.3,957.4 1479.7,956.2 1481.0,955.1 C1482.3,953.9 1483.7,952.8 1485.0,951.6 C1486.3,950.4 1487.7,949.1 1489.0,947.9 C1490.3,946.6 1491.7,945.3 1493.0,944.0 C1494.3,942.7 1495.7,941.3 1497.0,939.9 C1498.3,938.6 1499.7,937.2 1501.0,935.8 C1502.3,934.4 1503.7,932.9 1505.0,931.5 C1506.3,930.1 1507.7,928.6 1509.0,927.2 C1510.3,925.7 1511.7,924.2 1513.0,922.8 C1514.3,921.3 1515.7,919.8 1517.0,918.4 C1518.3,916.9 1519.7,915.4 1521.0,914.0 C1522.3,912.5 1523.7,911.1 1525.0,909.6 C1526.3,908.2 1527.7,906.8 1529.0,905.4 C1530.3,903.9 1531.7,902.5 1533.0,901.2 C1534.3,899.8 1535.7,898.4 1537.0,897.1 C1538.3,895.8 1539.7,894.5 1541.0,893.2 C1542.3,891.9 1543.7,890.7 1545.0,889.5 C1546.3,888.3 1547.7,887.1 1549.0,886.0 C1550.3,884.8 1551.7,883.7 1553.0,882.6 C1554.3,881.5 1555.7,880.5 1557.0,879.5 C1558.3,878.5 1559.7,877.5 1561.0,876.5 C1562.3,875.6 1563.7,874.6 1565.0,873.7 C1566.3,872.9 1567.7,872.0 1569.0,871.2 C1570.3,870.3 1571.7,869.5 1573.0,868.7 C1574.3,868.0 1575.7,867.2 1577.0,866.5 C1578.3,865.8 1579.7,865.1 1581.0,864.4 C1582.3,863.8 1583.7,863.1 1585.0,862.5 C1586.3,861.9 1587.7,861.3 1589.0,860.8 C1590.3,860.2 1591.7,859.7 1593.0,859.2 C1594.3,858.7 1595.7,858.2 1597.0,857.8 C1598.3,857.3 1599.7,856.9 1601.0,856.5 C1602.3,856.1 1603.7,855.7 1605.0,855.4 C1606.3,855.0 1607.7,854.7 1609.0,854.4 C1610.3,854.1 1611.7,853.8 1613.0,853.6 C1614.3,853.3 1615.7,853.1 1617.0,852.9 C1618.3,852.7 1619.7,852.5 1621.0,852.4 C1622.3,852.2 1623.7,852.1 1625.0,852.0 C1626.3,851.9 1627.7,851.8 1629.0,851.8 C1630.3,851.7 1631.7,851.7 1633.0,851.7 C1634.3,851.7 1635.7,851.7 1637.0,851.8 C1638.3,851.8 1639.7,851.9 1641.0,852.0 C1642.3,852.1 1643.7,852.3 1645.0,852.4 C1646.3,852.6 1647.7,852.8 1649.0,853.0 C1650.3,853.2 1651.7,853.5 1653.0,853.7 C1654.3,854.0 1655.7,854.3 1657.0,854.6 C1658.3,854.9 1659.7,855.3 1661.0,855.7 C1662.3,856.1 1663.7,856.5 1665.0,856.9 C1666.3,857.3 1667.7,857.8 1669.0,858.3 C1670.3,858.8 1671.7,859.3 1673.0,859.9 C1674.3,860.4 1675.7,861.0 1677.0,861.6 C1678.3,862.2 1679.7,862.9 1681.0,863.5 C1682.3,864.2 1683.7,864.9 1685.0,865.6 C1686.3,866.3 1687.7,867.1 1689.0,867.9 C1690.3,868.7 1691.7,869.5 1693.0,870.3 C1694.3,871.2 1695.7,872.1 1697.0,873.0 C1698.3,873.9 1699.7,874.8 1701.0,875.7 C1702.3,876.7 1703.7,877.7 1705.0,878.7 C1706.3,879.7 1707.7,880.7 1709.0,881.7 C1710.3,882.8 1711.7,883.8 1713.0,884.9 C1714.3,886.0 1715.7,887.1 1717.0,888.2 C1718.3,889.3 1719.7,890.5 1721.0,891.6 C1722.3,892.8 1723.7,893.9 1725.0,895.1 C1726.3,896.3 1727.7,897.5 1729.0,898.7 C1730.3,899.9 1731.7,901.1 1733.0,902.3 C1734.3,903.6 1735.7,904.8 1737.0,906.0 C1738.3,907.3 1739.7,908.5 1741.0,909.8 C1742.3,911.0 1743.7,912.3 1745.0,913.5 C1746.3,914.8 1747.7,916.0 1749.0,917.3 C1750.3,918.6 1751.7,919.8 1753.0,921.1 C1754.3,922.4 1755.7,923.6 1757.0,924.9 C1758.3,926.2 1759.7,927.4 1761.0,928.7 C1762.3,930.0 1763.7,931.2 1765.0,932.5 C1766.3,933.8 1767.7,935.0 1769.0,936.3 C1770.3,937.5 1771.7,938.8 1773.0,940.0 C1774.3,941.3 1775.7,942.5 1777.0,943.8 C1778.3,945.0 1779.7,946.2 1781.0,947.5 C1782.3,948.7 1783.7,949.9 1785.0,951.1 C1786.3,952.4 1787.7,953.6 1789.0,954.8 C1790.3,956.0 1791.7,957.2 1793.0,958.3 C1794.3,959.5 1795.7,960.7 1797.0,961.9 C1798.3,963.0 1799.7,964.2 1801.0,965.3 C1802.3,966.5 1803.7,967.6 1805.0,968.7 C1806.3,969.8 1807.7,970.9 1809.0,972.0 C1810.3,973.1 1811.7,974.2 1813.0,975.3 C1814.3,976.3 1815.7,977.4 1817.0,978.4 C1818.3,979.4 1819.7,980.4 1821.0,981.4 C1822.3,982.4 1823.7,983.4 1825.0,984.4 C1826.3,985.4 1827.7,986.3 1829.0,987.3 C1830.3,988.2 1831.7,989.1 1833.0,990.0 C1834.3,990.9 1835.7,991.8 1837.0,992.7 C1838.3,993.5 1839.7,994.4 1841.0,995.2 C1842.3,996.0 1843.7,996.8 1845.0,997.6 C1846.3,998.4 1847.7,999.2 1849.0,1000.0 C1850.3,1000.7 1851.7,1001.5 1853.0,1002.2 C1854.3,1002.9 1855.7,1003.6 1857.0,1004.3 C1858.3,1005.0 1859.7,1005.6 1861.0,1006.3 C1862.3,1006.9 1863.7,1007.5 1865.0,1008.1 C1866.3,1008.7 1867.7,1009.3 1869.0,1009.9 C1870.3,1010.4 1871.7,1011.0 1873.0,1011.5 C1874.3,1012.0 1875.7,1012.5 1877.0,1013.0 C1878.3,1013.5 1879.7,1013.9 1881.0,1014.4 C1882.3,1014.8 1883.7,1015.2 1885.0,1015.6 C1886.3,1016.0 1887.7,1016.4 1889.0,1016.7 C1890.3,1017.1 1891.7,1017.4 1893.0,1017.7 C1894.3,1018.0 1895.7,1018.3 1897.0,1018.5 C1898.3,1018.8 1899.7,1019.0 1901.0,1019.2 C1902.3,1019.4 1903.7,1019.6 1905.0,1019.8 C1906.3,1020.0 1907.7,1020.1 1909.0,1020.2 C1910.3,1020.3 1911.7,1020.4 1913.0,1020.5 C1914.3,1020.6 1915.7,1020.6 1917.0,1020.6 C1918.3,1020.7 1919.7,1020.7 1921.0,1020.6 C1922.3,1020.6 1923.7,1020.5 1925.0,1020.5 C1926.3,1020.4 1927.7,1020.3 1929.0,1020.2 C1930.3,1020.0 1931.7,1019.9 1933.0,1019.7 C1934.3,1019.5 1935.7,1019.3 1937.0,1019.1 C1938.3,1018.9 1939.7,1018.7 1941.0,1018.4 C1942.3,1018.1 1943.7,1017.8 1945.0,1017.5 C1946.3,1017.2 1947.7,1016.9 1949.0,1016.6 C1950.3,1016.2 1951.7,1015.8 1953.0,1015.4 C1954.3,1015.1 1955.7,1014.6 1957.0,1014.2 C1958.3,1013.8 1959.7,1013.3 1961.0,1012.9 C1962.3,1012.4 1963.7,1011.9 1965.0,1011.4 C1966.3,1010.9 1967.7,1010.4 1969.0,1009.8 C1970.3,1009.3 1971.7,1008.7 1973.0,1008.2 C1974.3,1007.6 1975.7,1007.0 1977.0,1006.4 C1978.3,1005.8 1979.7,1005.1 1981.0,1004.5 C1982.3,1003.8 1983.7,1003.2 1985.0,1002.5 C1986.3,1001.8 1987.7,1001.1 1989.0,1000.4 C1990.3,999.7 1991.7,999.0 1993.0,998.3 C1994.3,997.5 1995.7,996.8 1997.0,996.0 C1998.3,995.2 1999.7,994.5 2001.0,993.7 C2002.3,992.9 2003.7,992.1 2005.0,991.3 C2006.3,990.4 2007.7,989.6 2009.0,988.8 C2010.3,987.9 2011.7,987.1 2013.0,986.2 C2014.3,985.3 2015.7,984.5 2017.0,983.6 C2018.3,982.7 2019.7,981.8 2021.0,980.9 C2022.3,980.0 2023.7,979.1 2025.0,978.1 C2026.3,977.2 2027.7,976.3 2029.0,975.3 C2030.3,974.4 2031.7,973.4 2033.0,972.4 C2034.3,971.5 2035.7,970.5 2037.0,969.5 C2038.3,968.5 2039.7,967.5 2041.0,966.5 C2042.3,965.5 2043.7,964.5 2045.0,963.5 C2046.3,962.5 2047.7,961.5 2049.0,960.5 C2050.3,959.4 2051.7,958.4 2053.0,957.4 C2054.3,956.3 2055.7,955.3 2057.0,954.2 C2058.3,953.2 2059.7,952.1 2061.0,951.0 C2062.3,950.0 2063.7,948.9 2065.0,947.8 C2066.3,946.8 2067.7,945.7 2069.0,944.6 C2070.3,943.5 2071.7,942.4 2073.0,941.3 C2074.3,940.2 2075.7,939.2 2077.0,938.1 C2078.3,937.0 2079.7,935.9 2081.0,934.7 C2082.3,933.6 2083.7,932.5 2085.0,931.4 C2086.3,930.3 2087.7,929.2 2089.0,928.1 C2090.3,927.0 2091.7,925.9 2093.0,924.7 C2094.3,923.6 2095.7,922.5 2097.0,921.4 C2098.3,920.3 2099.7,919.1 2101.0,918.0 C2102.3,916.9 2103.7,915.8 2105.0,914.7 C2106.3,913.5 2107.7,912.4 2109.0,911.3 C2110.3,910.2 2111.7,909.0 2113.0,907.9 C2114.3,906.8 2115.7,905.7 2117.0,904.6 C2118.3,903.4 2119.7,902.3 2121.0,901.2 C2122.3,900.1 2123.7,899.0 2125.0,897.9 C2126.3,896.8 2127.7,895.7 2129.0,894.6 C2130.3,893.4 2131.7,892.3 2133.0,891.2 C2134.3,890.1 2135.7,889.0 2137.0,888.0 C2138.3,886.9 2139.7,885.8 2141.0,884.7 C2142.3,883.6 2143.7,882.5 2145.0,881.5 C2146.3,880.4 2147.7,879.4 2149.0,878.3 C2150.3,877.3 2151.7,876.3 2153.0,875.2 C2154.3,874.2 2155.7,873.2 2157.0,872.2 C2158.3,871.2 2159.7,870.3 2161.0,869.3 C2162.3,868.4 2163.7,867.4 2165.0,866.5 C2166.3,865.6 2167.7,864.7 2169.0,863.8 C2170.3,862.9 2171.7,862.1 2173.0,861.3 C2174.3,860.4 2175.7,859.6 2177.0,858.9 C2178.3,858.1 2179.7,857.3 2181.0,856.6 C2182.3,855.9 2183.7,855.2 2185.0,854.6 C2186.3,853.9 2187.7,853.3 2189.0,852.7 C2190.3,852.1 2191.7,851.5 2193.0,851.0 C2194.3,850.5 2195.7,850.0 2197.0,849.5 C2198.3,849.1 2199.7,848.7 2201.0,848.3 C2202.3,847.9 2203.7,847.6 2205.0,847.3 C2206.3,847.0 2207.7,846.7 2209.0,846.5 C2210.3,846.2 2211.7,846.0 2213.0,845.9 C2214.3,845.7 2215.7,845.6 2217.0,845.5 C2218.3,845.4 2219.7,845.3 2221.0,845.3 C2222.3,845.3 2223.7,845.3 2225.0,845.3 C2226.3,845.3 2227.7,845.4 2229.0,845.5 C2230.3,845.5 2231.7,845.7 2233.0,845.8 C2234.3,846.0 2235.7,846.1 2237.0,846.3 C2238.3,846.5 2239.7,846.8 2241.0,847.0 C2242.3,847.3 2243.7,847.5 2245.0,847.9 C2246.3,848.2 2247.7,848.5 2249.0,848.8 C2250.3,849.2 2251.7,849.6 2253.0,850.0 C2254.3,850.4 2255.7,850.8 2257.0,851.2 C2258.3,851.7 2259.7,852.1 2261.0,852.6 C2262.3,853.1 2263.7,853.6 2265.0,854.1 C2266.3,854.6 2267.7,855.2 2269.0,855.7 C2270.3,856.3 2271.7,856.9 2273.0,857.5 C2274.3,858.0 2275.7,858.7 2277.0,859.3 C2278.3,859.9 2279.7,860.5 2281.0,861.2 C2282.3,861.9 2283.7,862.5 2285.0,863.2 C2286.3,863.9 2287.7,864.6 2289.0,865.3 C2290.3,866.0 2291.7,866.7 2293.0,867.4 C2294.3,868.2 2295.7,868.9 2297.0,869.7 C2298.3,870.4 2300.2,871.5 2301.0,871.9 C2301.8,872.4 2301.8,872.4 2302.0,872.5" fill="none" stroke="#ffc323" stroke-width="8.5" stroke-linecap="round" stroke-linejoin="round"/><path d="M441.0,890.4 C441.7,890.2 443.7,889.8 445.0,889.6 C446.3,889.4 447.7,889.3 449.0,889.2 C450.3,889.1 451.7,889.1 453.0,889.1 C454.3,889.1 455.7,889.2 457.0,889.3 C458.3,889.4 459.7,889.5 461.0,889.7 C462.3,889.9 463.7,890.1 465.0,890.4 C466.3,890.7 467.7,891.0 469.0,891.3 C470.3,891.7 471.7,892.1 473.0,892.5 C474.3,892.9 475.7,893.4 477.0,893.8 C478.3,894.3 479.7,894.8 481.0,895.4 C482.3,895.9 483.7,896.5 485.0,897.1 C486.3,897.7 487.7,898.4 489.0,899.0 C490.3,899.7 491.7,900.4 493.0,901.1 C494.3,901.8 495.7,902.5 497.0,903.2 C498.3,904.0 499.7,904.8 501.0,905.5 C502.3,906.3 503.7,907.1 505.0,907.9 C506.3,908.7 507.7,909.6 509.0,910.4 C510.3,911.3 511.7,912.1 513.0,913.0 C514.3,913.8 515.7,914.7 517.0,915.6 C518.3,916.5 519.7,917.3 521.0,918.2 C522.3,919.1 523.7,920.0 525.0,920.9 C526.3,921.8 527.7,922.7 529.0,923.6 C530.3,924.5 531.7,925.4 533.0,926.3 C534.3,927.2 535.7,928.1 537.0,929.0 C538.3,929.8 539.7,930.7 541.0,931.6 C542.3,932.5 543.7,933.3 545.0,934.2 C546.3,935.0 547.7,935.9 549.0,936.7 C550.3,937.5 551.7,938.3 553.0,939.1 C554.3,939.9 555.7,940.7 557.0,941.5 C558.3,942.3 559.7,943.0 561.0,943.7 C562.3,944.4 563.7,945.2 565.0,945.8 C566.3,946.5 567.7,947.2 569.0,947.8 C570.3,948.4 571.7,949.0 573.0,949.6 C574.3,950.2 575.7,950.8 577.0,951.3 C578.3,951.8 579.7,952.3 581.0,952.8 C582.3,953.3 583.7,953.7 585.0,954.2 C586.3,954.6 587.7,955.0 589.0,955.4 C590.3,955.7 591.7,956.1 593.0,956.4 C594.3,956.7 595.7,957.0 597.0,957.3 C598.3,957.6 599.7,957.8 601.0,958.0 C602.3,958.2 603.7,958.4 605.0,958.6 C606.3,958.8 607.7,958.9 609.0,959.0 C610.3,959.1 611.7,959.2 613.0,959.3 C614.3,959.3 615.7,959.4 617.0,959.4 C618.3,959.4 619.7,959.3 621.0,959.3 C622.3,959.2 623.7,959.2 625.0,959.0 C626.3,958.9 627.7,958.8 629.0,958.6 C630.3,958.5 631.7,958.3 633.0,958.1 C634.3,957.9 635.7,957.6 637.0,957.3 C638.3,957.1 639.7,956.8 641.0,956.4 C642.3,956.1 643.7,955.8 645.0,955.4 C646.3,955.0 647.7,954.6 649.0,954.1 C650.3,953.7 651.7,953.2 653.0,952.7 C654.3,952.2 655.7,951.7 657.0,951.2 C658.3,950.6 659.7,950.0 661.0,949.4 C662.3,948.8 663.7,948.2 665.0,947.5 C666.3,946.8 667.7,946.2 669.0,945.4 C670.3,944.7 671.7,944.0 673.0,943.2 C674.3,942.5 675.7,941.7 677.0,940.9 C678.3,940.2 679.7,939.4 681.0,938.5 C682.3,937.7 683.7,936.9 685.0,936.1 C686.3,935.2 687.7,934.4 689.0,933.5 C690.3,932.7 691.7,931.8 693.0,931.0 C694.3,930.1 695.7,929.3 697.0,928.4 C698.3,927.5 699.7,926.7 701.0,925.8 C702.3,924.9 703.7,924.1 705.0,923.2 C706.3,922.4 707.7,921.5 709.0,920.7 C710.3,919.9 711.7,919.0 713.0,918.2 C714.3,917.4 715.7,916.6 717.0,915.8 C718.3,914.9 719.7,914.1 721.0,913.3 C722.3,912.5 723.7,911.7 725.0,910.9 C726.3,910.1 727.7,909.3 729.0,908.5 C730.3,907.8 731.7,907.0 733.0,906.2 C734.3,905.4 735.7,904.6 737.0,903.8 C738.3,903.0 739.7,902.3 741.0,901.5 C742.3,900.7 743.7,899.9 745.0,899.1 C746.3,898.3 747.7,897.5 749.0,896.8 C750.3,896.0 751.7,895.2 753.0,894.4 C754.3,893.7 755.7,892.9 757.0,892.1 C758.3,891.3 759.7,890.6 761.0,889.8 C762.3,889.1 763.7,888.3 765.0,887.5 C766.3,886.8 767.7,886.1 769.0,885.3 C770.3,884.6 771.7,883.8 773.0,883.1 C774.3,882.4 775.7,881.7 777.0,881.0 C778.3,880.2 779.7,879.5 781.0,878.8 C782.3,878.2 783.7,877.5 785.0,876.8 C786.3,876.1 787.7,875.4 789.0,874.8 C790.3,874.1 791.7,873.5 793.0,872.9 C794.3,872.2 795.7,871.6 797.0,871.0 C798.3,870.4 799.7,869.8 801.0,869.2 C802.3,868.6 803.7,868.0 805.0,867.5 C806.3,866.9 807.7,866.4 809.0,865.9 C810.3,865.3 811.7,864.8 813.0,864.3 C814.3,863.8 815.7,863.3 817.0,862.8 C818.3,862.3 819.7,861.9 821.0,861.4 C822.3,861.0 823.7,860.5 825.0,860.1 C826.3,859.7 827.7,859.3 829.0,858.9 C830.3,858.5 831.7,858.1 833.0,857.8 C834.3,857.4 835.7,857.1 837.0,856.7 C838.3,856.4 839.7,856.1 841.0,855.8 C842.3,855.5 843.7,855.2 845.0,855.0 C846.3,854.7 847.7,854.4 849.0,854.2 C850.3,854.0 851.7,853.8 853.0,853.6 C854.3,853.4 855.7,853.2 857.0,853.0 C858.3,852.9 859.7,852.7 861.0,852.6 C862.3,852.4 863.7,852.3 865.0,852.2 C866.3,852.1 867.7,852.1 869.0,852.0 C870.3,852.0 871.7,851.9 873.0,851.9 C874.3,851.9 875.7,851.9 877.0,851.9 C878.3,851.9 879.7,851.9 881.0,852.0 C882.3,852.0 883.7,852.1 885.0,852.2 C886.3,852.3 887.7,852.4 889.0,852.5 C890.3,852.7 891.7,852.8 893.0,853.0 C894.3,853.2 895.7,853.4 897.0,853.6 C898.3,853.8 899.7,854.0 901.0,854.3 C902.3,854.5 903.7,854.8 905.0,855.1 C906.3,855.4 907.7,855.7 909.0,856.0 C910.3,856.4 911.7,856.7 913.0,857.1 C914.3,857.5 915.7,857.9 917.0,858.3 C918.3,858.7 919.7,859.2 921.0,859.6 C922.3,860.1 923.7,860.6 925.0,861.1 C926.3,861.6 927.7,862.1 929.0,862.7 C930.3,863.2 931.7,863.8 933.0,864.3 C934.3,864.9 935.7,865.5 937.0,866.1 C938.3,866.7 939.7,867.3 941.0,867.9 C942.3,868.6 943.7,869.2 945.0,869.8 C946.3,870.5 947.7,871.1 949.0,871.8 C950.3,872.5 951.7,873.1 953.0,873.8 C954.3,874.5 955.7,875.1 957.0,875.8 C958.3,876.5 959.7,877.2 961.0,877.9 C962.3,878.6 963.7,879.3 965.0,879.9 C966.3,880.6 967.7,881.3 969.0,882.0 C970.3,882.7 971.7,883.4 973.0,884.0 C974.3,884.7 975.7,885.4 977.0,886.1 C978.3,886.7 979.7,887.4 981.0,888.0 C982.3,888.7 983.7,889.3 985.0,890.0 C986.3,890.6 987.7,891.2 989.0,891.9 C990.3,892.5 991.7,893.1 993.0,893.7 C994.3,894.3 995.7,894.8 997.0,895.4 C998.3,895.9 999.7,896.5 1001.0,897.0 C1002.3,897.5 1003.7,898.1 1005.0,898.5 C1006.3,899.0 1007.7,899.5 1009.0,900.0 C1010.3,900.4 1011.7,900.9 1013.0,901.3 C1014.3,901.8 1015.7,902.2 1017.0,902.6 C1018.3,903.0 1019.7,903.4 1021.0,903.7 C1022.3,904.1 1023.7,904.5 1025.0,904.8 C1026.3,905.2 1027.7,905.5 1029.0,905.9 C1030.3,906.2 1031.7,906.5 1033.0,906.8 C1034.3,907.1 1035.7,907.4 1037.0,907.7 C1038.3,908.0 1039.7,908.3 1041.0,908.6 C1042.3,908.8 1043.7,909.1 1045.0,909.4 C1046.3,909.6 1047.7,909.9 1049.0,910.1 C1050.3,910.4 1051.7,910.6 1053.0,910.8 C1054.3,911.1 1055.7,911.3 1057.0,911.5 C1058.3,911.7 1059.7,911.9 1061.0,912.1 C1062.3,912.4 1063.7,912.6 1065.0,912.8 C1066.3,913.0 1067.7,913.1 1069.0,913.3 C1070.3,913.5 1071.7,913.7 1073.0,913.9 C1074.3,914.0 1075.7,914.2 1077.0,914.4 C1078.3,914.5 1079.7,914.7 1081.0,914.8 C1082.3,915.0 1083.7,915.1 1085.0,915.3 C1086.3,915.4 1087.7,915.5 1089.0,915.6 C1090.3,915.8 1091.7,915.9 1093.0,916.0 C1094.3,916.1 1095.7,916.2 1097.0,916.3 C1098.3,916.4 1099.7,916.4 1101.0,916.5 C1102.3,916.6 1103.7,916.7 1105.0,916.7 C1106.3,916.8 1107.7,916.8 1109.0,916.9 C1110.3,916.9 1111.7,916.9 1113.0,917.0 C1114.3,917.0 1115.7,917.0 1117.0,917.0 C1118.3,917.0 1119.7,917.0 1121.0,917.0 C1122.3,917.0 1123.7,916.9 1125.0,916.9 C1126.3,916.9 1127.7,916.8 1129.0,916.8 C1130.3,916.7 1131.7,916.7 1133.0,916.6 C1134.3,916.5 1135.7,916.4 1137.0,916.3 C1138.3,916.2 1139.7,916.1 1141.0,916.0 C1142.3,915.9 1143.7,915.8 1145.0,915.6 C1146.3,915.5 1147.7,915.3 1149.0,915.2 C1150.3,915.0 1151.7,914.9 1153.0,914.7 C1154.3,914.5 1155.7,914.3 1157.0,914.1 C1158.3,913.9 1159.7,913.7 1161.0,913.4 C1162.3,913.2 1163.7,913.0 1165.0,912.7 C1166.3,912.5 1167.7,912.2 1169.0,911.9 C1170.3,911.6 1171.7,911.3 1173.0,911.0 C1174.3,910.7 1175.7,910.4 1177.0,910.1 C1178.3,909.7 1179.7,909.4 1181.0,909.0 C1182.3,908.7 1183.7,908.3 1185.0,907.9 C1186.3,907.6 1187.7,907.2 1189.0,906.8 C1190.3,906.4 1191.7,906.0 1193.0,905.6 C1194.3,905.2 1195.7,904.7 1197.0,904.3 C1198.3,903.9 1199.7,903.4 1201.0,903.0 C1202.3,902.5 1203.7,902.1 1205.0,901.6 C1206.3,901.2 1207.7,900.7 1209.0,900.3 C1210.3,899.8 1211.7,899.3 1213.0,898.9 C1214.3,898.4 1215.7,897.9 1217.0,897.4 C1218.3,897.0 1219.7,896.5 1221.0,896.0 C1222.3,895.5 1223.7,895.1 1225.0,894.6 C1226.3,894.1 1227.7,893.6 1229.0,893.2 C1230.3,892.7 1231.7,892.2 1233.0,891.7 C1234.3,891.3 1235.7,890.8 1237.0,890.3 C1238.3,889.9 1239.7,889.4 1241.0,888.9 C1242.3,888.5 1243.7,888.0 1245.0,887.6 C1246.3,887.1 1247.7,886.7 1249.0,886.3 C1250.3,885.8 1251.7,885.4 1253.0,885.0 C1254.3,884.6 1255.7,884.1 1257.0,883.7 C1258.3,883.3 1259.7,882.9 1261.0,882.6 C1262.3,882.2 1263.7,881.8 1265.0,881.4 C1266.3,881.1 1267.7,880.7 1269.0,880.4 C1270.3,880.0 1271.7,879.7 1273.0,879.4 C1274.3,879.1 1275.7,878.8 1277.0,878.5 C1278.3,878.2 1279.7,877.9 1281.0,877.7 C1282.3,877.4 1283.7,877.2 1285.0,877.0 C1286.3,876.7 1287.7,876.5 1289.0,876.3 C1290.3,876.1 1291.7,876.0 1293.0,875.8 C1294.3,875.6 1295.7,875.5 1297.0,875.4 C1298.3,875.2 1299.7,875.1 1301.0,875.0 C1302.3,874.9 1303.7,874.9 1305.0,874.8 C1306.3,874.7 1307.7,874.7 1309.0,874.6 C1310.3,874.6 1311.7,874.6 1313.0,874.6 C1314.3,874.5 1315.7,874.6 1317.0,874.6 C1318.3,874.6 1319.7,874.6 1321.0,874.7 C1322.3,874.7 1323.7,874.8 1325.0,874.8 C1326.3,874.9 1327.7,875.0 1329.0,875.1 C1330.3,875.2 1331.7,875.3 1333.0,875.4 C1334.3,875.6 1335.7,875.7 1337.0,875.8 C1338.3,876.0 1339.7,876.2 1341.0,876.3 C1342.3,876.5 1343.7,876.7 1345.0,876.9 C1346.3,877.1 1347.7,877.3 1349.0,877.5 C1350.3,877.7 1351.7,877.9 1353.0,878.2 C1354.3,878.4 1355.7,878.7 1357.0,878.9 C1358.3,879.2 1359.7,879.5 1361.0,879.7 C1362.3,880.0 1363.7,880.3 1365.0,880.6 C1366.3,880.9 1367.7,881.2 1369.0,881.5 C1370.3,881.8 1371.7,882.2 1373.0,882.5 C1374.3,882.8 1375.7,883.2 1377.0,883.5 C1378.3,883.9 1379.7,884.2 1381.0,884.6 C1382.3,885.0 1383.7,885.4 1385.0,885.7 C1386.3,886.1 1387.7,886.5 1389.0,886.9 C1390.3,887.3 1391.7,887.7 1393.0,888.1 C1394.3,888.5 1395.7,889.0 1397.0,889.4 C1398.3,889.8 1399.7,890.2 1401.0,890.7 C1402.3,891.1 1403.7,891.5 1405.0,892.0 C1406.3,892.4 1407.7,892.9 1409.0,893.3 C1410.3,893.7 1411.7,894.2 1413.0,894.7 C1414.3,895.1 1415.7,895.6 1417.0,896.0 C1418.3,896.5 1419.7,896.9 1421.0,897.4 C1422.3,897.9 1423.7,898.3 1425.0,898.8 C1426.3,899.3 1427.7,899.7 1429.0,900.2 C1430.3,900.7 1431.7,901.1 1433.0,901.6 C1434.3,902.1 1435.7,902.6 1437.0,903.0 C1438.3,903.5 1439.7,904.0 1441.0,904.4 C1442.3,904.9 1443.7,905.4 1445.0,905.8 C1446.3,906.3 1447.7,906.7 1449.0,907.2 C1450.3,907.7 1451.7,908.1 1453.0,908.6 C1454.3,909.0 1455.7,909.5 1457.0,909.9 C1458.3,910.4 1459.7,910.8 1461.0,911.2 C1462.3,911.7 1463.7,912.1 1465.0,912.5 C1466.3,913.0 1467.7,913.4 1469.0,913.8 C1470.3,914.2 1471.7,914.6 1473.0,915.0 C1474.3,915.4 1475.7,915.8 1477.0,916.2 C1478.3,916.6 1479.7,917.0 1481.0,917.4 C1482.3,917.7 1483.7,918.1 1485.0,918.5 C1486.3,918.8 1487.7,919.2 1489.0,919.5 C1490.3,919.9 1491.7,920.2 1493.0,920.5 C1494.3,920.9 1495.7,921.2 1497.0,921.5 C1498.3,921.8 1499.7,922.1 1501.0,922.4 C1502.3,922.7 1503.7,922.9 1505.0,923.2 C1506.3,923.5 1507.7,923.7 1509.0,924.0 C1510.3,924.2 1511.7,924.4 1513.0,924.7 C1514.3,924.9 1515.7,925.1 1517.0,925.3 C1518.3,925.5 1519.7,925.6 1521.0,925.8 C1522.3,926.0 1523.7,926.1 1525.0,926.3 C1526.3,926.4 1527.7,926.6 1529.0,926.7 C1530.3,926.8 1531.7,926.9 1533.0,927.0 C1534.3,927.1 1535.7,927.2 1537.0,927.3 C1538.3,927.3 1539.7,927.4 1541.0,927.5 C1542.3,927.5 1543.7,927.6 1545.0,927.6 C1546.3,927.6 1547.7,927.6 1549.0,927.7 C1550.3,927.7 1551.7,927.7 1553.0,927.7 C1554.3,927.7 1555.7,927.7 1557.0,927.6 C1558.3,927.6 1559.7,927.6 1561.0,927.5 C1562.3,927.5 1563.7,927.5 1565.0,927.4 C1566.3,927.4 1567.7,927.3 1569.0,927.2 C1570.3,927.2 1571.7,927.1 1573.0,927.0 C1574.3,926.9 1575.7,926.8 1577.0,926.7 C1578.3,926.6 1579.7,926.5 1581.0,926.4 C1582.3,926.3 1583.7,926.2 1585.0,926.1 C1586.3,925.9 1587.7,925.8 1589.0,925.7 C1590.3,925.5 1591.7,925.4 1593.0,925.2 C1594.3,925.1 1595.7,924.9 1597.0,924.8 C1598.3,924.6 1599.7,924.5 1601.0,924.3 C1602.3,924.1 1603.7,924.0 1605.0,923.8 C1606.3,923.6 1607.7,923.5 1609.0,923.3 C1610.3,923.1 1611.7,922.9 1613.0,922.7 C1614.3,922.5 1615.7,922.4 1617.0,922.2 C1618.3,922.0 1619.7,921.8 1621.0,921.6 C1622.3,921.4 1623.7,921.2 1625.0,921.0 C1626.3,920.8 1627.7,920.6 1629.0,920.4 C1630.3,920.2 1631.7,920.0 1633.0,919.8 C1634.3,919.5 1635.7,919.3 1637.0,919.1 C1638.3,918.9 1639.7,918.7 1641.0,918.5 C1642.3,918.3 1643.7,918.1 1645.0,917.9 C1646.3,917.7 1647.7,917.4 1649.0,917.2 C1650.3,917.0 1651.7,916.8 1653.0,916.6 C1654.3,916.4 1655.7,916.2 1657.0,916.0 C1658.3,915.8 1659.7,915.6 1661.0,915.3 C1662.3,915.1 1663.7,914.9 1665.0,914.7 C1666.3,914.5 1667.7,914.3 1669.0,914.1 C1670.3,913.9 1671.7,913.7 1673.0,913.5 C1674.3,913.3 1675.7,913.1 1677.0,912.9 C1678.3,912.7 1679.7,912.5 1681.0,912.3 C1682.3,912.1 1683.7,911.9 1685.0,911.8 C1686.3,911.6 1687.7,911.4 1689.0,911.2 C1690.3,911.0 1691.7,910.8 1693.0,910.7 C1694.3,910.5 1695.7,910.3 1697.0,910.2 C1698.3,910.0 1699.7,909.8 1701.0,909.7 C1702.3,909.5 1703.7,909.3 1705.0,909.2 C1706.3,909.0 1707.7,908.9 1709.0,908.7 C1710.3,908.6 1711.7,908.4 1713.0,908.3 C1714.3,908.2 1715.7,908.0 1717.0,907.9 C1718.3,907.8 1719.7,907.7 1721.0,907.5 C1722.3,907.4 1723.7,907.3 1725.0,907.2 C1726.3,907.1 1727.7,907.0 1729.0,906.9 C1730.3,906.8 1731.7,906.7 1733.0,906.6 C1734.3,906.6 1735.7,906.5 1737.0,906.4 C1738.3,906.3 1739.7,906.3 1741.0,906.2 C1742.3,906.2 1743.7,906.1 1745.0,906.1 C1746.3,906.0 1747.7,906.0 1749.0,905.9 C1750.3,905.9 1751.7,905.9 1753.0,905.9 C1754.3,905.8 1755.7,905.8 1757.0,905.8 C1758.3,905.8 1759.7,905.8 1761.0,905.9 C1762.3,905.9 1763.7,905.9 1765.0,905.9 C1766.3,905.9 1767.7,906.0 1769.0,906.0 C1770.3,906.1 1771.7,906.1 1773.0,906.2 C1774.3,906.3 1775.7,906.3 1777.0,906.4 C1778.3,906.5 1779.7,906.6 1781.0,906.7 C1782.3,906.8 1783.7,906.9 1785.0,907.0 C1786.3,907.1 1787.7,907.3 1789.0,907.4 C1790.3,907.5 1791.7,907.7 1793.0,907.8 C1794.3,908.0 1795.7,908.2 1797.0,908.3 C1798.3,908.5 1799.7,908.7 1801.0,908.9 C1802.3,909.1 1803.7,909.3 1805.0,909.5 C1806.3,909.8 1807.7,910.0 1809.0,910.2 C1810.3,910.5 1811.7,910.7 1813.0,911.0 C1814.3,911.3 1815.7,911.6 1817.0,911.9 C1818.3,912.1 1819.7,912.4 1821.0,912.8 C1822.3,913.1 1823.7,913.4 1825.0,913.7 C1826.3,914.1 1827.7,914.4 1829.0,914.8 C1830.3,915.2 1831.7,915.5 1833.0,915.9 C1834.3,916.3 1835.7,916.7 1837.0,917.1 C1838.3,917.5 1839.7,918.0 1841.0,918.4 C1842.3,918.9 1843.7,919.3 1845.0,919.8 C1846.3,920.2 1847.7,920.7 1849.0,921.2 C1850.3,921.7 1851.7,922.1 1853.0,922.6 C1854.3,923.1 1855.7,923.7 1857.0,924.2 C1858.3,924.7 1859.7,925.2 1861.0,925.8 C1862.3,926.3 1863.7,926.8 1865.0,927.4 C1866.3,927.9 1867.7,928.5 1869.0,929.1 C1870.3,929.6 1871.7,930.2 1873.0,930.8 C1874.3,931.4 1875.7,931.9 1877.0,932.5 C1878.3,933.1 1879.7,933.7 1881.0,934.3 C1882.3,934.9 1883.7,935.5 1885.0,936.1 C1886.3,936.7 1887.7,937.4 1889.0,938.0 C1890.3,938.6 1891.7,939.2 1893.0,939.8 C1894.3,940.5 1895.7,941.1 1897.0,941.7 C1898.3,942.3 1899.7,943.0 1901.0,943.6 C1902.3,944.2 1903.7,944.9 1905.0,945.5 C1906.3,946.1 1907.7,946.8 1909.0,947.4 C1910.3,948.0 1911.7,948.7 1913.0,949.3 C1914.3,949.9 1915.7,950.6 1917.0,951.2 C1918.3,951.8 1919.7,952.4 1921.0,953.1 C1922.3,953.7 1923.7,954.3 1925.0,955.0 C1926.3,955.6 1927.7,956.2 1929.0,956.8 C1930.3,957.4 1931.7,958.1 1933.0,958.7 C1934.3,959.3 1935.7,959.9 1937.0,960.5 C1938.3,961.1 1939.7,961.7 1941.0,962.3 C1942.3,962.9 1943.7,963.5 1945.0,964.0 C1946.3,964.6 1947.7,965.2 1949.0,965.8 C1950.3,966.3 1951.7,966.9 1953.0,967.5 C1954.3,968.0 1955.7,968.6 1957.0,969.1 C1958.3,969.6 1959.7,970.2 1961.0,970.7 C1962.3,971.2 1963.7,971.7 1965.0,972.2 C1966.3,972.7 1967.7,973.2 1969.0,973.7 C1970.3,974.2 1971.7,974.7 1973.0,975.2 C1974.3,975.6 1975.7,976.1 1977.0,976.5 C1978.3,977.0 1979.7,977.4 1981.0,977.8 C1982.3,978.3 1983.7,978.7 1985.0,979.1 C1986.3,979.5 1987.7,979.8 1989.0,980.2 C1990.3,980.6 1991.7,980.9 1993.0,981.3 C1994.3,981.6 1995.7,982.0 1997.0,982.3 C1998.3,982.6 1999.7,982.9 2001.0,983.2 C2002.3,983.5 2003.7,983.7 2005.0,984.0 C2006.3,984.2 2007.7,984.5 2009.0,984.7 C2010.3,984.9 2011.7,985.1 2013.0,985.3 C2014.3,985.5 2015.7,985.7 2017.0,985.8 C2018.3,986.0 2019.7,986.1 2021.0,986.2 C2022.3,986.4 2023.7,986.5 2025.0,986.5 C2026.3,986.6 2027.7,986.7 2029.0,986.7 C2030.3,986.8 2031.7,986.8 2033.0,986.8 C2034.3,986.8 2035.7,986.8 2037.0,986.7 C2038.3,986.7 2039.7,986.6 2041.0,986.5 C2042.3,986.4 2043.7,986.3 2045.0,986.2 C2046.3,986.1 2047.7,985.9 2049.0,985.8 C2050.3,985.6 2051.7,985.4 2053.0,985.2 C2054.3,984.9 2055.7,984.7 2057.0,984.4 C2058.3,984.2 2059.7,983.9 2061.0,983.6 C2062.3,983.3 2063.7,982.9 2065.0,982.6 C2066.3,982.2 2067.7,981.9 2069.0,981.5 C2070.3,981.1 2071.7,980.7 2073.0,980.3 C2074.3,979.9 2075.7,979.4 2077.0,979.0 C2078.3,978.5 2079.7,978.0 2081.0,977.5 C2082.3,977.1 2083.7,976.5 2085.0,976.0 C2086.3,975.5 2087.7,975.0 2089.0,974.4 C2090.3,973.9 2091.7,973.3 2093.0,972.7 C2094.3,972.2 2095.7,971.6 2097.0,971.0 C2098.3,970.4 2099.7,969.8 2101.0,969.2 C2102.3,968.5 2103.7,967.9 2105.0,967.3 C2106.3,966.6 2107.7,966.0 2109.0,965.3 C2110.3,964.7 2111.7,964.0 2113.0,963.3 C2114.3,962.6 2115.7,962.0 2117.0,961.3 C2118.3,960.6 2119.7,959.9 2121.0,959.2 C2122.3,958.5 2123.7,957.8 2125.0,957.1 C2126.3,956.3 2127.7,955.6 2129.0,954.9 C2130.3,954.2 2131.7,953.5 2133.0,952.7 C2134.3,952.0 2135.7,951.3 2137.0,950.5 C2138.3,949.8 2139.7,949.1 2141.0,948.3 C2142.3,947.6 2143.7,946.9 2145.0,946.1 C2146.3,945.4 2147.7,944.7 2149.0,943.9 C2150.3,943.2 2151.7,942.5 2153.0,941.8 C2154.3,941.0 2155.7,940.3 2157.0,939.6 C2158.3,938.9 2159.7,938.1 2161.0,937.4 C2162.3,936.7 2163.7,936.0 2165.0,935.3 C2166.3,934.6 2167.7,933.9 2169.0,933.2 C2170.3,932.5 2171.7,931.8 2173.0,931.1 C2174.3,930.4 2175.7,929.8 2177.0,929.1 C2178.3,928.4 2179.7,927.7 2181.0,927.1 C2182.3,926.4 2183.7,925.8 2185.0,925.1 C2186.3,924.5 2187.7,923.8 2189.0,923.2 C2190.3,922.6 2191.7,921.9 2193.0,921.3 C2194.3,920.7 2195.7,920.1 2197.0,919.5 C2198.3,918.9 2199.7,918.3 2201.0,917.7 C2202.3,917.1 2203.7,916.5 2205.0,915.9 C2206.3,915.3 2207.7,914.8 2209.0,914.2 C2210.3,913.6 2211.7,913.1 2213.0,912.5 C2214.3,912.0 2215.7,911.5 2217.0,910.9 C2218.3,910.4 2219.7,909.9 2221.0,909.3 C2222.3,908.8 2223.7,908.3 2225.0,907.8 C2226.3,907.3 2227.7,906.8 2229.0,906.3 C2230.3,905.8 2231.7,905.4 2233.0,904.9 C2234.3,904.4 2235.7,904.0 2237.0,903.5 C2238.3,903.1 2239.7,902.6 2241.0,902.2 C2242.3,901.8 2243.7,901.3 2245.0,900.9 C2246.3,900.5 2247.7,900.1 2249.0,899.7 C2250.3,899.3 2251.7,898.9 2253.0,898.5 C2254.3,898.1 2255.7,897.8 2257.0,897.4 C2258.3,897.0 2259.7,896.7 2261.0,896.3 C2262.3,896.0 2263.7,895.7 2265.0,895.3 C2266.3,895.0 2267.7,894.7 2269.0,894.4 C2270.3,894.1 2271.7,893.8 2273.0,893.5 C2274.3,893.2 2275.7,893.0 2277.0,892.7 C2278.3,892.4 2279.7,892.2 2281.0,891.9 C2282.3,891.7 2283.7,891.5 2285.0,891.2 C2286.3,891.0 2287.7,890.8 2289.0,890.6 C2290.3,890.4 2291.7,890.2 2293.0,890.0 C2294.3,889.9 2295.7,889.7 2297.0,889.5 C2298.3,889.4 2300.2,889.2 2301.0,889.1 C2301.8,889.0 2301.8,889.0 2302.0,889.0" fill="none" stroke="#3000ff" stroke-width="9" stroke-linecap="round" stroke-linejoin="round"/><path d="M441.0,936.9 C441.7,937.0 443.7,937.3 445.0,937.4 C446.3,937.6 447.7,937.8 449.0,937.9 C450.3,938.1 451.7,938.2 453.0,938.3 C454.3,938.4 455.7,938.5 457.0,938.6 C458.3,938.7 459.7,938.7 461.0,938.8 C462.3,938.9 463.7,938.9 465.0,938.9 C466.3,939.0 467.7,939.0 469.0,939.0 C470.3,939.0 471.7,939.0 473.0,939.0 C474.3,939.0 475.7,938.9 477.0,938.9 C478.3,938.8 479.7,938.8 481.0,938.7 C482.3,938.7 483.7,938.6 485.0,938.5 C486.3,938.4 487.7,938.3 489.0,938.2 C490.3,938.1 491.7,938.0 493.0,937.8 C494.3,937.7 495.7,937.5 497.0,937.4 C498.3,937.2 499.7,937.1 501.0,936.9 C502.3,936.7 503.7,936.5 505.0,936.3 C506.3,936.2 507.7,936.0 509.0,935.7 C510.3,935.5 511.7,935.3 513.0,935.1 C514.3,934.8 515.7,934.6 517.0,934.4 C518.3,934.1 519.7,933.9 521.0,933.6 C522.3,933.3 523.7,933.1 525.0,932.8 C526.3,932.5 527.7,932.2 529.0,931.9 C530.3,931.6 531.7,931.3 533.0,931.0 C534.3,930.7 535.7,930.4 537.0,930.1 C538.3,929.8 539.7,929.4 541.0,929.1 C542.3,928.8 543.7,928.4 545.0,928.1 C546.3,927.7 547.7,927.4 549.0,927.0 C550.3,926.7 551.7,926.3 553.0,925.9 C554.3,925.6 555.7,925.2 557.0,924.8 C558.3,924.4 559.7,924.0 561.0,923.7 C562.3,923.3 563.7,922.9 565.0,922.5 C566.3,922.1 567.7,921.7 569.0,921.3 C570.3,920.9 571.7,920.5 573.0,920.0 C574.3,919.6 575.7,919.2 577.0,918.8 C578.3,918.4 579.7,918.0 581.0,917.5 C582.3,917.1 583.7,916.7 585.0,916.3 C586.3,915.8 587.7,915.4 589.0,915.0 C590.3,914.5 591.7,914.1 593.0,913.7 C594.3,913.2 595.7,912.8 597.0,912.3 C598.3,911.9 599.7,911.5 601.0,911.0 C602.3,910.6 603.7,910.1 605.0,909.7 C606.3,909.3 607.7,908.8 609.0,908.4 C610.3,907.9 611.7,907.5 613.0,907.0 C614.3,906.6 615.7,906.2 617.0,905.7 C618.3,905.3 619.7,904.8 621.0,904.4 C622.3,903.9 623.7,903.5 625.0,903.1 C626.3,902.6 627.7,902.2 629.0,901.7 C630.3,901.3 631.7,900.9 633.0,900.4 C634.3,900.0 635.7,899.6 637.0,899.2 C638.3,898.7 639.7,898.3 641.0,897.9 C642.3,897.5 643.7,897.0 645.0,896.6 C646.3,896.2 647.7,895.8 649.0,895.4 C650.3,895.0 651.7,894.6 653.0,894.1 C654.3,893.7 655.7,893.3 657.0,892.9 C658.3,892.6 659.7,892.2 661.0,891.8 C662.3,891.4 663.7,891.0 665.0,890.6 C666.3,890.2 667.7,889.9 669.0,889.5 C670.3,889.1 671.7,888.8 673.0,888.4 C674.3,888.1 675.7,887.7 677.0,887.4 C678.3,887.0 679.7,886.7 681.0,886.3 C682.3,886.0 683.7,885.7 685.0,885.4 C686.3,885.0 687.7,884.7 689.0,884.4 C690.3,884.1 691.7,883.8 693.0,883.5 C694.3,883.2 695.7,882.9 697.0,882.7 C698.3,882.4 699.7,882.1 701.0,881.9 C702.3,881.6 703.7,881.3 705.0,881.1 C706.3,880.8 707.7,880.6 709.0,880.4 C710.3,880.1 711.7,879.9 713.0,879.7 C714.3,879.5 715.7,879.3 717.0,879.1 C718.3,878.9 719.7,878.7 721.0,878.5 C722.3,878.4 723.7,878.2 725.0,878.0 C726.3,877.9 727.7,877.7 729.0,877.6 C730.3,877.4 731.7,877.3 733.0,877.2 C734.3,877.1 735.7,876.9 737.0,876.8 C738.3,876.7 739.7,876.7 741.0,876.6 C742.3,876.5 743.7,876.4 745.0,876.4 C746.3,876.3 747.7,876.2 749.0,876.2 C750.3,876.2 751.7,876.1 753.0,876.1 C754.3,876.1 755.7,876.1 757.0,876.1 C758.3,876.1 759.7,876.1 761.0,876.1 C762.3,876.2 763.7,876.2 765.0,876.2 C766.3,876.3 767.7,876.3 769.0,876.4 C770.3,876.5 771.7,876.6 773.0,876.7 C774.3,876.8 775.7,876.9 777.0,877.0 C778.3,877.1 779.7,877.2 781.0,877.4 C782.3,877.5 783.7,877.7 785.0,877.9 C786.3,878.0 787.7,878.2 789.0,878.4 C790.3,878.6 791.7,878.8 793.0,879.0 C794.3,879.2 795.7,879.5 797.0,879.7 C798.3,880.0 799.7,880.2 801.0,880.5 C802.3,880.8 803.7,881.1 805.0,881.4 C806.3,881.7 807.7,882.0 809.0,882.3 C810.3,882.6 811.7,883.0 813.0,883.3 C814.3,883.7 815.7,884.1 817.0,884.5 C818.3,884.8 819.7,885.2 821.0,885.7 C822.3,886.1 823.7,886.5 825.0,886.9 C826.3,887.4 827.7,887.8 829.0,888.3 C830.3,888.7 831.7,889.2 833.0,889.7 C834.3,890.2 835.7,890.7 837.0,891.2 C838.3,891.7 839.7,892.2 841.0,892.8 C842.3,893.3 843.7,893.8 845.0,894.4 C846.3,894.9 847.7,895.5 849.0,896.1 C850.3,896.7 851.7,897.2 853.0,897.8 C854.3,898.4 855.7,899.0 857.0,899.6 C858.3,900.2 859.7,900.9 861.0,901.5 C862.3,902.1 863.7,902.7 865.0,903.4 C866.3,904.0 867.7,904.7 869.0,905.3 C870.3,906.0 871.7,906.7 873.0,907.3 C874.3,908.0 875.7,908.7 877.0,909.4 C878.3,910.0 879.7,910.7 881.0,911.4 C882.3,912.1 883.7,912.8 885.0,913.5 C886.3,914.3 887.7,915.0 889.0,915.7 C890.3,916.4 891.7,917.1 893.0,917.9 C894.3,918.6 895.7,919.3 897.0,920.1 C898.3,920.8 899.7,921.5 901.0,922.3 C902.3,923.0 903.7,923.8 905.0,924.5 C906.3,925.3 907.7,926.0 909.0,926.8 C910.3,927.5 911.7,928.3 913.0,929.1 C914.3,929.8 915.7,930.6 917.0,931.3 C918.3,932.1 919.7,932.9 921.0,933.6 C922.3,934.4 923.7,935.2 925.0,935.9 C926.3,936.7 927.7,937.4 929.0,938.2 C930.3,938.9 931.7,939.7 933.0,940.5 C934.3,941.2 935.7,942.0 937.0,942.7 C938.3,943.5 939.7,944.2 941.0,944.9 C942.3,945.7 943.7,946.4 945.0,947.2 C946.3,947.9 947.7,948.6 949.0,949.3 C950.3,950.1 951.7,950.8 953.0,951.5 C954.3,952.2 955.7,952.9 957.0,953.6 C958.3,954.3 959.7,955.0 961.0,955.7 C962.3,956.3 963.7,957.0 965.0,957.7 C966.3,958.4 967.7,959.0 969.0,959.7 C970.3,960.3 971.7,960.9 973.0,961.6 C974.3,962.2 975.7,962.8 977.0,963.4 C978.3,964.0 979.7,964.6 981.0,965.2 C982.3,965.8 983.7,966.4 985.0,966.9 C986.3,967.5 987.7,968.0 989.0,968.6 C990.3,969.1 991.7,969.6 993.0,970.1 C994.3,970.7 995.7,971.1 997.0,971.6 C998.3,972.1 999.7,972.6 1001.0,973.0 C1002.3,973.5 1003.7,973.9 1005.0,974.3 C1006.3,974.7 1007.7,975.1 1009.0,975.5 C1010.3,975.9 1011.7,976.3 1013.0,976.6 C1014.3,977.0 1015.7,977.3 1017.0,977.6 C1018.3,977.9 1019.7,978.2 1021.0,978.5 C1022.3,978.8 1023.7,979.0 1025.0,979.3 C1026.3,979.5 1027.7,979.7 1029.0,979.9 C1030.3,980.1 1031.7,980.3 1033.0,980.5 C1034.3,980.6 1035.7,980.8 1037.0,980.9 C1038.3,981.0 1039.7,981.1 1041.0,981.2 C1042.3,981.2 1043.7,981.3 1045.0,981.3 C1046.3,981.4 1047.7,981.4 1049.0,981.4 C1050.3,981.4 1051.7,981.4 1053.0,981.4 C1054.3,981.3 1055.7,981.3 1057.0,981.2 C1058.3,981.2 1059.7,981.1 1061.0,981.0 C1062.3,980.9 1063.7,980.8 1065.0,980.6 C1066.3,980.5 1067.7,980.4 1069.0,980.2 C1070.3,980.0 1071.7,979.9 1073.0,979.7 C1074.3,979.5 1075.7,979.3 1077.0,979.0 C1078.3,978.8 1079.7,978.6 1081.0,978.3 C1082.3,978.1 1083.7,977.8 1085.0,977.6 C1086.3,977.3 1087.7,977.0 1089.0,976.7 C1090.3,976.4 1091.7,976.1 1093.0,975.8 C1094.3,975.4 1095.7,975.1 1097.0,974.7 C1098.3,974.4 1099.7,974.0 1101.0,973.7 C1102.3,973.3 1103.7,972.9 1105.0,972.5 C1106.3,972.1 1107.7,971.7 1109.0,971.3 C1110.3,970.9 1111.7,970.5 1113.0,970.0 C1114.3,969.6 1115.7,969.1 1117.0,968.7 C1118.3,968.2 1119.7,967.8 1121.0,967.3 C1122.3,966.8 1123.7,966.4 1125.0,965.9 C1126.3,965.4 1127.7,964.9 1129.0,964.4 C1130.3,963.9 1131.7,963.4 1133.0,962.9 C1134.3,962.3 1135.7,961.8 1137.0,961.3 C1138.3,960.8 1139.7,960.2 1141.0,959.7 C1142.3,959.1 1143.7,958.6 1145.0,958.0 C1146.3,957.5 1147.7,956.9 1149.0,956.4 C1150.3,955.8 1151.7,955.2 1153.0,954.7 C1154.3,954.1 1155.7,953.5 1157.0,952.9 C1158.3,952.4 1159.7,951.8 1161.0,951.2 C1162.3,950.6 1163.7,950.0 1165.0,949.4 C1166.3,948.8 1167.7,948.2 1169.0,947.6 C1170.3,947.0 1171.7,946.4 1173.0,945.8 C1174.3,945.2 1175.7,944.6 1177.0,944.0 C1178.3,943.4 1179.7,942.8 1181.0,942.2 C1182.3,941.6 1183.7,941.0 1185.0,940.4 C1186.3,939.8 1187.7,939.2 1189.0,938.6 C1190.3,938.0 1191.7,937.4 1193.0,936.8 C1194.3,936.2 1195.7,935.6 1197.0,935.0 C1198.3,934.4 1199.7,933.8 1201.0,933.2 C1202.3,932.6 1203.7,932.0 1205.0,931.4 C1206.3,930.8 1207.7,930.2 1209.0,929.7 C1210.3,929.1 1211.7,928.5 1213.0,927.9 C1214.3,927.3 1215.7,926.8 1217.0,926.2 C1218.3,925.6 1219.7,925.1 1221.0,924.5 C1222.3,924.0 1223.7,923.4 1225.0,922.9 C1226.3,922.3 1227.7,921.8 1229.0,921.2 C1230.3,920.7 1231.7,920.2 1233.0,919.6 C1234.3,919.1 1235.7,918.6 1237.0,918.1 C1238.3,917.6 1239.7,917.1 1241.0,916.6 C1242.3,916.1 1243.7,915.6 1245.0,915.1 C1246.3,914.6 1247.7,914.2 1249.0,913.7 C1250.3,913.2 1251.7,912.8 1253.0,912.3 C1254.3,911.9 1255.7,911.5 1257.0,911.0 C1258.3,910.6 1259.7,910.2 1261.0,909.8 C1262.3,909.4 1263.7,909.0 1265.0,908.6 C1266.3,908.2 1267.7,907.8 1269.0,907.5 C1270.3,907.1 1271.7,906.8 1273.0,906.4 C1274.3,906.1 1275.7,905.8 1277.0,905.5 C1278.3,905.1 1279.7,904.8 1281.0,904.6 C1282.3,904.3 1283.7,904.0 1285.0,903.7 C1286.3,903.5 1287.7,903.2 1289.0,903.0 C1290.3,902.7 1291.7,902.5 1293.0,902.3 C1294.3,902.1 1295.7,901.9 1297.0,901.8 C1298.3,901.6 1299.7,901.4 1301.0,901.3 C1302.3,901.1 1303.7,901.0 1305.0,900.9 C1306.3,900.8 1307.7,900.7 1309.0,900.6 C1310.3,900.5 1311.7,900.5 1313.0,900.4 C1314.3,900.4 1315.7,900.3 1317.0,900.3 C1318.3,900.3 1319.7,900.3 1321.0,900.3 C1322.3,900.4 1323.7,900.4 1325.0,900.5 C1326.3,900.5 1327.7,900.6 1329.0,900.7 C1330.3,900.8 1331.7,900.9 1333.0,901.0 C1334.3,901.1 1335.7,901.2 1337.0,901.4 C1338.3,901.5 1339.7,901.7 1341.0,901.9 C1342.3,902.0 1343.7,902.2 1345.0,902.4 C1346.3,902.6 1347.7,902.9 1349.0,903.1 C1350.3,903.3 1351.7,903.6 1353.0,903.8 C1354.3,904.1 1355.7,904.4 1357.0,904.7 C1358.3,904.9 1359.7,905.2 1361.0,905.6 C1362.3,905.9 1363.7,906.2 1365.0,906.5 C1366.3,906.9 1367.7,907.2 1369.0,907.6 C1370.3,907.9 1371.7,908.3 1373.0,908.7 C1374.3,909.0 1375.7,909.4 1377.0,909.8 C1378.3,910.2 1379.7,910.7 1381.0,911.1 C1382.3,911.5 1383.7,911.9 1385.0,912.4 C1386.3,912.8 1387.7,913.3 1389.0,913.7 C1390.3,914.2 1391.7,914.7 1393.0,915.2 C1394.3,915.6 1395.7,916.1 1397.0,916.6 C1398.3,917.1 1399.7,917.6 1401.0,918.1 C1402.3,918.7 1403.7,919.2 1405.0,919.7 C1406.3,920.2 1407.7,920.8 1409.0,921.3 C1410.3,921.9 1411.7,922.4 1413.0,923.0 C1414.3,923.5 1415.7,924.1 1417.0,924.7 C1418.3,925.2 1419.7,925.8 1421.0,926.4 C1422.3,927.0 1423.7,927.6 1425.0,928.2 C1426.3,928.8 1427.7,929.4 1429.0,930.0 C1430.3,930.6 1431.7,931.2 1433.0,931.8 C1434.3,932.4 1435.7,933.1 1437.0,933.7 C1438.3,934.3 1439.7,934.9 1441.0,935.6 C1442.3,936.2 1443.7,936.8 1445.0,937.5 C1446.3,938.1 1447.7,938.8 1449.0,939.4 C1450.3,940.1 1451.7,940.7 1453.0,941.4 C1454.3,942.0 1455.7,942.7 1457.0,943.3 C1458.3,944.0 1459.7,944.6 1461.0,945.3 C1462.3,946.0 1463.7,946.6 1465.0,947.3 C1466.3,948.0 1467.7,948.6 1469.0,949.3 C1470.3,949.9 1471.7,950.6 1473.0,951.3 C1474.3,951.9 1475.7,952.6 1477.0,953.3 C1478.3,953.9 1479.7,954.6 1481.0,955.2 C1482.3,955.9 1483.7,956.5 1485.0,957.2 C1486.3,957.9 1487.7,958.5 1489.0,959.1 C1490.3,959.8 1491.7,960.4 1493.0,961.1 C1494.3,961.7 1495.7,962.3 1497.0,963.0 C1498.3,963.6 1499.7,964.2 1501.0,964.8 C1502.3,965.4 1503.7,966.0 1505.0,966.6 C1506.3,967.2 1507.7,967.8 1509.0,968.4 C1510.3,969.0 1511.7,969.6 1513.0,970.1 C1514.3,970.7 1515.7,971.2 1517.0,971.8 C1518.3,972.3 1519.7,972.9 1521.0,973.4 C1522.3,973.9 1523.7,974.4 1525.0,974.9 C1526.3,975.5 1527.7,975.9 1529.0,976.4 C1530.3,976.9 1531.7,977.4 1533.0,977.8 C1534.3,978.3 1535.7,978.7 1537.0,979.2 C1538.3,979.6 1539.7,980.0 1541.0,980.4 C1542.3,980.8 1543.7,981.2 1545.0,981.6 C1546.3,981.9 1547.7,982.3 1549.0,982.6 C1550.3,983.0 1551.7,983.3 1553.0,983.6 C1554.3,983.9 1555.7,984.2 1557.0,984.5 C1558.3,984.7 1559.7,985.0 1561.0,985.2 C1562.3,985.4 1563.7,985.7 1565.0,985.9 C1566.3,986.1 1567.7,986.2 1569.0,986.4 C1570.3,986.5 1571.7,986.7 1573.0,986.8 C1574.3,986.9 1575.7,987.0 1577.0,987.1 C1578.3,987.1 1579.7,987.2 1581.0,987.2 C1582.3,987.3 1583.7,987.3 1585.0,987.3 C1586.3,987.3 1587.7,987.2 1589.0,987.2 C1590.3,987.2 1591.7,987.1 1593.0,987.0 C1594.3,987.0 1595.7,986.9 1597.0,986.7 C1598.3,986.6 1599.7,986.5 1601.0,986.4 C1602.3,986.2 1603.7,986.0 1605.0,985.9 C1606.3,985.7 1607.7,985.5 1609.0,985.3 C1610.3,985.1 1611.7,984.8 1613.0,984.6 C1614.3,984.3 1615.7,984.1 1617.0,983.8 C1618.3,983.5 1619.7,983.2 1621.0,982.9 C1622.3,982.6 1623.7,982.3 1625.0,982.0 C1626.3,981.7 1627.7,981.3 1629.0,981.0 C1630.3,980.6 1631.7,980.2 1633.0,979.8 C1634.3,979.5 1635.7,979.1 1637.0,978.7 C1638.3,978.3 1639.7,977.8 1641.0,977.4 C1642.3,977.0 1643.7,976.5 1645.0,976.1 C1646.3,975.6 1647.7,975.1 1649.0,974.7 C1650.3,974.2 1651.7,973.7 1653.0,973.2 C1654.3,972.7 1655.7,972.2 1657.0,971.7 C1658.3,971.2 1659.7,970.6 1661.0,970.1 C1662.3,969.6 1663.7,969.0 1665.0,968.4 C1666.3,967.9 1667.7,967.3 1669.0,966.8 C1670.3,966.2 1671.7,965.6 1673.0,965.0 C1674.3,964.4 1675.7,963.8 1677.0,963.2 C1678.3,962.6 1679.7,962.0 1681.0,961.4 C1682.3,960.8 1683.7,960.2 1685.0,959.5 C1686.3,958.9 1687.7,958.3 1689.0,957.6 C1690.3,957.0 1691.7,956.3 1693.0,955.7 C1694.3,955.0 1695.7,954.4 1697.0,953.7 C1698.3,953.1 1699.7,952.4 1701.0,951.7 C1702.3,951.1 1703.7,950.4 1705.0,949.7 C1706.3,949.0 1707.7,948.4 1709.0,947.7 C1710.3,947.0 1711.7,946.3 1713.0,945.6 C1714.3,944.9 1715.7,944.2 1717.0,943.5 C1718.3,942.8 1719.7,942.2 1721.0,941.5 C1722.3,940.8 1723.7,940.1 1725.0,939.4 C1726.3,938.7 1727.7,938.0 1729.0,937.3 C1730.3,936.6 1731.7,935.9 1733.0,935.2 C1734.3,934.5 1735.7,933.8 1737.0,933.1 C1738.3,932.4 1739.7,931.7 1741.0,931.0 C1742.3,930.3 1743.7,929.6 1745.0,928.9 C1746.3,928.2 1747.7,927.5 1749.0,926.8 C1750.3,926.1 1751.7,925.4 1753.0,924.7 C1754.3,924.0 1755.7,923.3 1757.0,922.7 C1758.3,922.0 1759.7,921.3 1761.0,920.6 C1762.3,920.0 1763.7,919.3 1765.0,918.6 C1766.3,917.9 1767.7,917.3 1769.0,916.6 C1770.3,916.0 1771.7,915.3 1773.0,914.7 C1774.3,914.0 1775.7,913.4 1777.0,912.7 C1778.3,912.1 1779.7,911.5 1781.0,910.8 C1782.3,910.2 1783.7,909.6 1785.0,909.0 C1786.3,908.4 1787.7,907.8 1789.0,907.2 C1790.3,906.6 1791.7,906.0 1793.0,905.4 C1794.3,904.8 1795.7,904.2 1797.0,903.7 C1798.3,903.1 1799.7,902.5 1801.0,902.0 C1802.3,901.4 1803.7,900.9 1805.0,900.4 C1806.3,899.8 1807.7,899.3 1809.0,898.8 C1810.3,898.3 1811.7,897.8 1813.0,897.3 C1814.3,896.8 1815.7,896.3 1817.0,895.9 C1818.3,895.4 1819.7,894.9 1821.0,894.5 C1822.3,894.1 1823.7,893.6 1825.0,893.2 C1826.3,892.8 1827.7,892.4 1829.0,892.0 C1830.3,891.6 1831.7,891.2 1833.0,890.8 C1834.3,890.5 1835.7,890.1 1837.0,889.8 C1838.3,889.4 1839.7,889.1 1841.0,888.8 C1842.3,888.5 1843.7,888.2 1845.0,887.9 C1846.3,887.6 1847.7,887.4 1849.0,887.1 C1850.3,886.9 1851.7,886.7 1853.0,886.4 C1854.3,886.2 1855.7,886.0 1857.0,885.9 C1858.3,885.7 1859.7,885.5 1861.0,885.4 C1862.3,885.2 1863.7,885.1 1865.0,885.0 C1866.3,884.9 1867.7,884.8 1869.0,884.8 C1870.3,884.7 1871.7,884.6 1873.0,884.6 C1874.3,884.6 1875.7,884.6 1877.0,884.6 C1878.3,884.6 1879.7,884.6 1881.0,884.7 C1882.3,884.8 1883.7,884.8 1885.0,884.9 C1886.3,885.0 1887.7,885.1 1889.0,885.3 C1890.3,885.4 1891.7,885.6 1893.0,885.8 C1894.3,886.0 1895.7,886.2 1897.0,886.4 C1898.3,886.7 1899.7,886.9 1901.0,887.2 C1902.3,887.5 1903.7,887.8 1905.0,888.1 C1906.3,888.4 1907.7,888.8 1909.0,889.1 C1910.3,889.5 1911.7,889.9 1913.0,890.3 C1914.3,890.7 1915.7,891.1 1917.0,891.5 C1918.3,892.0 1919.7,892.4 1921.0,892.9 C1922.3,893.4 1923.7,893.9 1925.0,894.4 C1926.3,894.9 1927.7,895.4 1929.0,896.0 C1930.3,896.5 1931.7,897.1 1933.0,897.7 C1934.3,898.3 1935.7,898.9 1937.0,899.5 C1938.3,900.1 1939.7,900.7 1941.0,901.4 C1942.3,902.0 1943.7,902.6 1945.0,903.3 C1946.3,904.0 1947.7,904.7 1949.0,905.4 C1950.3,906.1 1951.7,906.8 1953.0,907.5 C1954.3,908.2 1955.7,909.0 1957.0,909.7 C1958.3,910.5 1959.7,911.2 1961.0,912.0 C1962.3,912.7 1963.7,913.5 1965.0,914.3 C1966.3,915.1 1967.7,915.9 1969.0,916.7 C1970.3,917.5 1971.7,918.4 1973.0,919.2 C1974.3,920.0 1975.7,920.9 1977.0,921.7 C1978.3,922.5 1979.7,923.4 1981.0,924.3 C1982.3,925.1 1983.7,926.0 1985.0,926.9 C1986.3,927.7 1987.7,928.6 1989.0,929.5 C1990.3,930.4 1991.7,931.3 1993.0,932.2 C1994.3,933.1 1995.7,934.0 1997.0,934.9 C1998.3,935.8 1999.7,936.8 2001.0,937.7 C2002.3,938.6 2003.7,939.5 2005.0,940.4 C2006.3,941.4 2007.7,942.3 2009.0,943.2 C2010.3,944.2 2011.7,945.1 2013.0,946.0 C2014.3,947.0 2015.7,947.9 2017.0,948.8 C2018.3,949.8 2019.7,950.7 2021.0,951.7 C2022.3,952.6 2023.7,953.6 2025.0,954.5 C2026.3,955.4 2027.7,956.4 2029.0,957.3 C2030.3,958.3 2031.7,959.2 2033.0,960.2 C2034.3,961.1 2035.7,962.0 2037.0,963.0 C2038.3,963.9 2039.7,964.8 2041.0,965.8 C2042.3,966.7 2043.7,967.6 2045.0,968.6 C2046.3,969.5 2047.7,970.4 2049.0,971.3 C2050.3,972.3 2051.7,973.2 2053.0,974.1 C2054.3,975.0 2055.7,975.9 2057.0,976.8 C2058.3,977.7 2059.7,978.6 2061.0,979.5 C2062.3,980.4 2063.7,981.3 2065.0,982.2 C2066.3,983.0 2067.7,983.9 2069.0,984.8 C2070.3,985.6 2071.7,986.5 2073.0,987.4 C2074.3,988.2 2075.7,989.0 2077.0,989.9 C2078.3,990.7 2079.7,991.5 2081.0,992.4 C2082.3,993.2 2083.7,994.0 2085.0,994.8 C2086.3,995.6 2087.7,996.4 2089.0,997.2 C2090.3,997.9 2091.7,998.7 2093.0,999.5 C2094.3,1000.2 2095.7,1001.0 2097.0,1001.7 C2098.3,1002.4 2099.7,1003.2 2101.0,1003.9 C2102.3,1004.6 2103.7,1005.3 2105.0,1006.0 C2106.3,1006.6 2107.7,1007.3 2109.0,1008.0 C2110.3,1008.6 2111.7,1009.3 2113.0,1009.9 C2114.3,1010.6 2115.7,1011.2 2117.0,1011.8 C2118.3,1012.4 2119.7,1013.0 2121.0,1013.5 C2122.3,1014.1 2123.7,1014.7 2125.0,1015.2 C2126.3,1015.7 2127.7,1016.3 2129.0,1016.8 C2130.3,1017.3 2131.7,1017.8 2133.0,1018.3 C2134.3,1018.7 2135.7,1019.2 2137.0,1019.6 C2138.3,1020.1 2139.7,1020.5 2141.0,1020.9 C2142.3,1021.3 2143.7,1021.7 2145.0,1022.0 C2146.3,1022.4 2147.7,1022.7 2149.0,1023.1 C2150.3,1023.4 2151.7,1023.7 2153.0,1024.0 C2154.3,1024.3 2155.7,1024.5 2157.0,1024.8 C2158.3,1025.0 2159.7,1025.2 2161.0,1025.4 C2162.3,1025.6 2163.7,1025.8 2165.0,1026.0 C2166.3,1026.1 2167.7,1026.2 2169.0,1026.4 C2170.3,1026.5 2171.7,1026.5 2173.0,1026.6 C2174.3,1026.7 2175.7,1026.7 2177.0,1026.7 C2178.3,1026.8 2179.7,1026.8 2181.0,1026.7 C2182.3,1026.7 2183.7,1026.7 2185.0,1026.6 C2186.3,1026.6 2187.7,1026.5 2189.0,1026.4 C2190.3,1026.3 2191.7,1026.1 2193.0,1026.0 C2194.3,1025.9 2195.7,1025.7 2197.0,1025.5 C2198.3,1025.3 2199.7,1025.1 2201.0,1024.9 C2202.3,1024.7 2203.7,1024.5 2205.0,1024.2 C2206.3,1024.0 2207.7,1023.7 2209.0,1023.4 C2210.3,1023.1 2211.7,1022.8 2213.0,1022.5 C2214.3,1022.2 2215.7,1021.8 2217.0,1021.5 C2218.3,1021.1 2219.7,1020.7 2221.0,1020.4 C2222.3,1020.0 2223.7,1019.6 2225.0,1019.1 C2226.3,1018.7 2227.7,1018.3 2229.0,1017.8 C2230.3,1017.4 2231.7,1016.9 2233.0,1016.5 C2234.3,1016.0 2235.7,1015.5 2237.0,1015.0 C2238.3,1014.5 2239.7,1014.0 2241.0,1013.4 C2242.3,1012.9 2243.7,1012.3 2245.0,1011.8 C2246.3,1011.2 2247.7,1010.6 2249.0,1010.1 C2250.3,1009.5 2251.7,1008.9 2253.0,1008.3 C2254.3,1007.7 2255.7,1007.0 2257.0,1006.4 C2258.3,1005.8 2259.7,1005.1 2261.0,1004.5 C2262.3,1003.8 2263.7,1003.2 2265.0,1002.5 C2266.3,1001.8 2267.7,1001.1 2269.0,1000.4 C2270.3,999.7 2271.7,999.0 2273.0,998.3 C2274.3,997.6 2275.7,996.9 2277.0,996.2 C2278.3,995.4 2279.7,994.7 2281.0,993.9 C2282.3,993.2 2283.7,992.4 2285.0,991.7 C2286.3,990.9 2287.7,990.1 2289.0,989.4 C2290.3,988.6 2291.7,987.8 2293.0,987.0 C2294.3,986.2 2295.7,985.4 2297.0,984.6 C2298.3,983.8 2300.2,982.7 2301.0,982.2 C2301.8,981.7 2301.8,981.7 2302.0,981.6" fill="none" stroke="#000000" stroke-width="9" stroke-linecap="round" stroke-linejoin="round"/><path d="M443.0,808.8 C443.7,808.9 445.7,809.4 447.0,809.6 C448.3,809.9 449.7,810.1 451.0,810.4 C452.3,810.6 453.7,810.8 455.0,811.0 C456.3,811.2 457.7,811.4 459.0,811.5 C460.3,811.7 461.7,811.8 463.0,811.9 C464.3,812.0 465.7,812.1 467.0,812.2 C468.3,812.3 469.7,812.4 471.0,812.4 C472.3,812.5 473.7,812.5 475.0,812.5 C476.3,812.5 477.7,812.5 479.0,812.5 C480.3,812.5 481.7,812.4 483.0,812.4 C484.3,812.3 485.7,812.3 487.0,812.2 C488.3,812.1 489.7,812.0 491.0,811.9 C492.3,811.8 493.7,811.7 495.0,811.5 C496.3,811.4 497.7,811.3 499.0,811.1 C500.3,810.9 501.7,810.7 503.0,810.6 C504.3,810.4 505.7,810.2 507.0,809.9 C508.3,809.7 509.7,809.5 511.0,809.2 C512.3,809.0 513.7,808.7 515.0,808.5 C516.3,808.2 517.7,807.9 519.0,807.6 C520.3,807.3 521.7,807.0 523.0,806.7 C524.3,806.4 525.7,806.1 527.0,805.7 C528.3,805.4 529.7,805.1 531.0,804.7 C532.3,804.3 533.7,804.0 535.0,803.6 C536.3,803.2 537.7,802.8 539.0,802.4 C540.3,802.0 541.7,801.6 543.0,801.2 C544.3,800.8 545.7,800.4 547.0,799.9 C548.3,799.5 549.7,799.1 551.0,798.6 C552.3,798.2 553.7,797.7 555.0,797.2 C556.3,796.8 557.7,796.3 559.0,795.8 C560.3,795.3 561.7,794.8 563.0,794.3 C564.3,793.8 565.7,793.3 567.0,792.8 C568.3,792.3 569.7,791.8 571.0,791.3 C572.3,790.8 573.7,790.2 575.0,789.7 C576.3,789.2 577.7,788.6 579.0,788.1 C580.3,787.6 581.7,787.0 583.0,786.5 C584.3,785.9 585.7,785.3 587.0,784.8 C588.3,784.2 589.7,783.7 591.0,783.1 C592.3,782.5 593.7,781.9 595.0,781.4 C596.3,780.8 597.7,780.2 599.0,779.6 C600.3,779.0 601.7,778.4 603.0,777.9 C604.3,777.3 605.7,776.7 607.0,776.1 C608.3,775.5 609.7,774.9 611.0,774.3 C612.3,773.7 613.7,773.1 615.0,772.5 C616.3,771.9 617.7,771.2 619.0,770.6 C620.3,770.0 621.7,769.4 623.0,768.8 C624.3,768.2 625.7,767.6 627.0,767.0 C628.3,766.4 629.7,765.7 631.0,765.1 C632.3,764.5 633.7,763.9 635.0,763.3 C636.3,762.7 637.7,762.1 639.0,761.4 C640.3,760.8 641.7,760.2 643.0,759.6 C644.3,759.0 645.7,758.4 647.0,757.8 C648.3,757.1 649.7,756.5 651.0,755.9 C652.3,755.3 653.7,754.7 655.0,754.1 C656.3,753.5 657.7,752.9 659.0,752.3 C660.3,751.7 661.7,751.1 663.0,750.5 C664.3,749.9 665.7,749.3 667.0,748.7 C668.3,748.1 669.7,747.5 671.0,746.9 C672.3,746.3 673.7,745.8 675.0,745.2 C676.3,744.6 677.7,744.0 679.0,743.4 C680.3,742.9 681.7,742.3 683.0,741.7 C684.3,741.2 685.7,740.6 687.0,740.1 C688.3,739.5 689.7,738.9 691.0,738.4 C692.3,737.9 693.7,737.3 695.0,736.8 C696.3,736.2 697.7,735.7 699.0,735.2 C700.3,734.7 701.7,734.1 703.0,733.6 C704.3,733.1 705.7,732.6 707.0,732.1 C708.3,731.6 709.7,731.1 711.0,730.6 C712.3,730.2 713.7,729.7 715.0,729.2 C716.3,728.7 717.7,728.3 719.0,727.8 C720.3,727.4 721.7,726.9 723.0,726.5 C724.3,726.1 725.7,725.7 727.0,725.3 C728.3,724.8 729.7,724.4 731.0,724.1 C732.3,723.7 733.7,723.3 735.0,722.9 C736.3,722.6 737.7,722.2 739.0,721.9 C740.3,721.5 741.7,721.2 743.0,720.9 C744.3,720.6 745.7,720.2 747.0,720.0 C748.3,719.7 749.7,719.4 751.0,719.1 C752.3,718.9 753.7,718.6 755.0,718.4 C756.3,718.1 757.7,717.9 759.0,717.7 C760.3,717.5 761.7,717.3 763.0,717.1 C764.3,717.0 765.7,716.8 767.0,716.7 C768.3,716.5 769.7,716.4 771.0,716.3 C772.3,716.2 773.7,716.1 775.0,716.0 C776.3,715.9 777.7,715.8 779.0,715.8 C780.3,715.7 781.7,715.7 783.0,715.7 C784.3,715.6 785.7,715.6 787.0,715.6 C788.3,715.7 789.7,715.7 791.0,715.7 C792.3,715.8 793.7,715.8 795.0,715.9 C796.3,716.0 797.7,716.0 799.0,716.1 C800.3,716.2 801.7,716.4 803.0,716.5 C804.3,716.6 805.7,716.8 807.0,717.0 C808.3,717.1 809.7,717.3 811.0,717.5 C812.3,717.7 813.7,717.9 815.0,718.1 C816.3,718.4 817.7,718.6 819.0,718.9 C820.3,719.1 821.7,719.4 823.0,719.7 C824.3,720.0 825.7,720.3 827.0,720.6 C828.3,721.0 829.7,721.3 831.0,721.7 C832.3,722.0 833.7,722.4 835.0,722.8 C836.3,723.2 837.7,723.5 839.0,724.0 C840.3,724.4 841.7,724.8 843.0,725.2 C844.3,725.7 845.7,726.1 847.0,726.6 C848.3,727.0 849.7,727.5 851.0,728.0 C852.3,728.4 853.7,728.9 855.0,729.4 C856.3,729.9 857.7,730.4 859.0,730.9 C860.3,731.5 861.7,732.0 863.0,732.5 C864.3,733.0 865.7,733.6 867.0,734.1 C868.3,734.7 869.7,735.2 871.0,735.8 C872.3,736.4 873.7,736.9 875.0,737.5 C876.3,738.1 877.7,738.6 879.0,739.2 C880.3,739.8 881.7,740.4 883.0,741.0 C884.3,741.6 885.7,742.1 887.0,742.7 C888.3,743.3 889.7,743.9 891.0,744.5 C892.3,745.1 893.7,745.7 895.0,746.3 C896.3,746.9 897.7,747.5 899.0,748.1 C900.3,748.7 901.7,749.4 903.0,750.0 C904.3,750.6 905.7,751.2 907.0,751.8 C908.3,752.4 909.7,753.0 911.0,753.6 C912.3,754.2 913.7,754.7 915.0,755.3 C916.3,755.9 917.7,756.5 919.0,757.1 C920.3,757.7 921.7,758.3 923.0,758.8 C924.3,759.4 925.7,760.0 927.0,760.6 C928.3,761.1 929.7,761.7 931.0,762.2 C932.3,762.8 933.7,763.3 935.0,763.9 C936.3,764.4 937.7,764.9 939.0,765.5 C940.3,766.0 941.7,766.5 943.0,767.0 C944.3,767.5 945.7,768.0 947.0,768.5 C948.3,769.0 949.7,769.5 951.0,769.9 C952.3,770.4 953.7,770.9 955.0,771.3 C956.3,771.8 957.7,772.2 959.0,772.7 C960.3,773.1 961.7,773.5 963.0,773.9 C964.3,774.4 965.7,774.8 967.0,775.2 C968.3,775.6 969.7,776.0 971.0,776.4 C972.3,776.7 973.7,777.1 975.0,777.5 C976.3,777.8 977.7,778.2 979.0,778.6 C980.3,778.9 981.7,779.3 983.0,779.6 C984.3,779.9 985.7,780.2 987.0,780.6 C988.3,780.9 989.7,781.2 991.0,781.5 C992.3,781.8 993.7,782.1 995.0,782.4 C996.3,782.7 997.7,782.9 999.0,783.2 C1000.3,783.5 1001.7,783.7 1003.0,784.0 C1004.3,784.3 1005.7,784.5 1007.0,784.7 C1008.3,785.0 1009.7,785.2 1011.0,785.4 C1012.3,785.7 1013.7,785.9 1015.0,786.1 C1016.3,786.3 1017.7,786.5 1019.0,786.7 C1020.3,786.9 1021.7,787.1 1023.0,787.2 C1024.3,787.4 1025.7,787.6 1027.0,787.8 C1028.3,787.9 1029.7,788.1 1031.0,788.2 C1032.3,788.4 1033.7,788.5 1035.0,788.7 C1036.3,788.8 1037.7,788.9 1039.0,789.0 C1040.3,789.2 1041.7,789.3 1043.0,789.4 C1044.3,789.5 1045.7,789.6 1047.0,789.7 C1048.3,789.8 1049.7,789.9 1051.0,789.9 C1052.3,790.0 1053.7,790.1 1055.0,790.2 C1056.3,790.2 1057.7,790.3 1059.0,790.3 C1060.3,790.4 1061.7,790.4 1063.0,790.5 C1064.3,790.5 1065.7,790.6 1067.0,790.6 C1068.3,790.6 1069.7,790.6 1071.0,790.6 C1072.3,790.7 1073.7,790.7 1075.0,790.7 C1076.3,790.7 1077.7,790.7 1079.0,790.6 C1080.3,790.6 1081.7,790.6 1083.0,790.6 C1084.3,790.6 1085.7,790.5 1087.0,790.5 C1088.3,790.5 1089.7,790.4 1091.0,790.4 C1092.3,790.3 1093.7,790.3 1095.0,790.2 C1096.3,790.2 1097.7,790.1 1099.0,790.0 C1100.3,789.9 1101.7,789.9 1103.0,789.8 C1104.3,789.7 1105.7,789.6 1107.0,789.5 C1108.3,789.4 1109.7,789.3 1111.0,789.2 C1112.3,789.1 1113.7,789.0 1115.0,788.9 C1116.3,788.8 1117.7,788.6 1119.0,788.5 C1120.3,788.4 1121.7,788.3 1123.0,788.1 C1124.3,788.0 1125.7,787.8 1127.0,787.7 C1128.3,787.5 1129.7,787.4 1131.0,787.2 C1132.3,787.1 1133.7,786.9 1135.0,786.7 C1136.3,786.6 1137.7,786.4 1139.0,786.2 C1140.3,786.0 1141.7,785.8 1143.0,785.7 C1144.3,785.5 1145.7,785.3 1147.0,785.1 C1148.3,784.9 1149.7,784.7 1151.0,784.5 C1152.3,784.3 1153.7,784.0 1155.0,783.8 C1156.3,783.6 1157.7,783.4 1159.0,783.2 C1160.3,782.9 1161.7,782.7 1163.0,782.5 C1164.3,782.2 1165.7,782.0 1167.0,781.7 C1168.3,781.5 1169.7,781.2 1171.0,781.0 C1172.3,780.7 1173.7,780.5 1175.0,780.2 C1176.3,779.9 1177.7,779.7 1179.0,779.4 C1180.3,779.1 1181.7,778.9 1183.0,778.6 C1184.3,778.3 1185.7,778.0 1187.0,777.7 C1188.3,777.5 1189.7,777.2 1191.0,776.9 C1192.3,776.6 1193.7,776.3 1195.0,776.0 C1196.3,775.7 1197.7,775.4 1199.0,775.1 C1200.3,774.8 1201.7,774.5 1203.0,774.2 C1204.3,773.9 1205.7,773.6 1207.0,773.3 C1208.3,773.1 1209.7,772.8 1211.0,772.5 C1212.3,772.2 1213.7,771.9 1215.0,771.6 C1216.3,771.3 1217.7,771.0 1219.0,770.7 C1220.3,770.4 1221.7,770.2 1223.0,769.9 C1224.3,769.6 1225.7,769.3 1227.0,769.1 C1228.3,768.8 1229.7,768.5 1231.0,768.3 C1232.3,768.0 1233.7,767.7 1235.0,767.5 C1236.3,767.2 1237.7,767.0 1239.0,766.8 C1240.3,766.5 1241.7,766.3 1243.0,766.1 C1244.3,765.8 1245.7,765.6 1247.0,765.4 C1248.3,765.2 1249.7,765.0 1251.0,764.8 C1252.3,764.6 1253.7,764.4 1255.0,764.2 C1256.3,764.0 1257.7,763.9 1259.0,763.7 C1260.3,763.6 1261.7,763.4 1263.0,763.3 C1264.3,763.1 1265.7,763.0 1267.0,762.9 C1268.3,762.8 1269.7,762.7 1271.0,762.6 C1272.3,762.5 1273.7,762.4 1275.0,762.3 C1276.3,762.2 1277.7,762.2 1279.0,762.1 C1280.3,762.1 1281.7,762.0 1283.0,762.0 C1284.3,762.0 1285.7,762.0 1287.0,761.9 C1288.3,761.9 1289.7,761.9 1291.0,761.9 C1292.3,762.0 1293.7,762.0 1295.0,762.0 C1296.3,762.0 1297.7,762.1 1299.0,762.1 C1300.3,762.2 1301.7,762.2 1303.0,762.3 C1304.3,762.4 1305.7,762.5 1307.0,762.5 C1308.3,762.6 1309.7,762.7 1311.0,762.8 C1312.3,762.9 1313.7,763.1 1315.0,763.2 C1316.3,763.3 1317.7,763.4 1319.0,763.6 C1320.3,763.7 1321.7,763.9 1323.0,764.0 C1324.3,764.2 1325.7,764.4 1327.0,764.5 C1328.3,764.7 1329.7,764.9 1331.0,765.1 C1332.3,765.3 1333.7,765.5 1335.0,765.7 C1336.3,765.9 1337.7,766.1 1339.0,766.3 C1340.3,766.6 1341.7,766.8 1343.0,767.0 C1344.3,767.3 1345.7,767.5 1347.0,767.8 C1348.3,768.0 1349.7,768.3 1351.0,768.5 C1352.3,768.8 1353.7,769.1 1355.0,769.4 C1356.3,769.6 1357.7,769.9 1359.0,770.2 C1360.3,770.5 1361.7,770.8 1363.0,771.1 C1364.3,771.4 1365.7,771.7 1367.0,772.1 C1368.3,772.4 1369.7,772.7 1371.0,773.0 C1372.3,773.4 1373.7,773.7 1375.0,774.1 C1376.3,774.4 1377.7,774.7 1379.0,775.1 C1380.3,775.5 1381.7,775.8 1383.0,776.2 C1384.3,776.5 1385.7,776.9 1387.0,777.3 C1388.3,777.7 1389.7,778.0 1391.0,778.4 C1392.3,778.8 1393.7,779.2 1395.0,779.6 C1396.3,780.0 1397.7,780.4 1399.0,780.7 C1400.3,781.1 1401.7,781.5 1403.0,781.9 C1404.3,782.4 1405.7,782.8 1407.0,783.2 C1408.3,783.6 1409.7,784.0 1411.0,784.4 C1412.3,784.8 1413.7,785.2 1415.0,785.7 C1416.3,786.1 1417.7,786.5 1419.0,786.9 C1420.3,787.3 1421.7,787.8 1423.0,788.2 C1424.3,788.6 1425.7,789.0 1427.0,789.5 C1428.3,789.9 1429.7,790.3 1431.0,790.7 C1432.3,791.2 1433.7,791.6 1435.0,792.0 C1436.3,792.5 1437.7,792.9 1439.0,793.3 C1440.3,793.7 1441.7,794.2 1443.0,794.6 C1444.3,795.0 1445.7,795.4 1447.0,795.9 C1448.3,796.3 1449.7,796.7 1451.0,797.1 C1452.3,797.6 1453.7,798.0 1455.0,798.4 C1456.3,798.8 1457.7,799.3 1459.0,799.7 C1460.3,800.1 1461.7,800.5 1463.0,800.9 C1464.3,801.3 1465.7,801.7 1467.0,802.1 C1468.3,802.5 1469.7,803.0 1471.0,803.4 C1472.3,803.8 1473.7,804.2 1475.0,804.5 C1476.3,804.9 1477.7,805.3 1479.0,805.7 C1480.3,806.1 1481.7,806.5 1483.0,806.9 C1484.3,807.3 1485.7,807.6 1487.0,808.0 C1488.3,808.4 1489.7,808.7 1491.0,809.1 C1492.3,809.5 1493.7,809.8 1495.0,810.2 C1496.3,810.5 1497.7,810.9 1499.0,811.2 C1500.3,811.6 1501.7,811.9 1503.0,812.3 C1504.3,812.6 1505.7,813.0 1507.0,813.3 C1508.3,813.6 1509.7,813.9 1511.0,814.3 C1512.3,814.6 1513.7,814.9 1515.0,815.2 C1516.3,815.5 1517.7,815.8 1519.0,816.1 C1520.3,816.4 1521.7,816.7 1523.0,817.0 C1524.3,817.3 1525.7,817.6 1527.0,817.8 C1528.3,818.1 1529.7,818.4 1531.0,818.7 C1532.3,818.9 1533.7,819.2 1535.0,819.4 C1536.3,819.7 1537.7,819.9 1539.0,820.2 C1540.3,820.4 1541.7,820.7 1543.0,820.9 C1544.3,821.1 1545.7,821.3 1547.0,821.5 C1548.3,821.8 1549.7,822.0 1551.0,822.2 C1552.3,822.4 1553.7,822.6 1555.0,822.8 C1556.3,822.9 1557.7,823.1 1559.0,823.3 C1560.3,823.5 1561.7,823.6 1563.0,823.8 C1564.3,824.0 1565.7,824.1 1567.0,824.2 C1568.3,824.4 1569.7,824.5 1571.0,824.7 C1572.3,824.8 1573.7,824.9 1575.0,825.0 C1576.3,825.1 1577.7,825.2 1579.0,825.3 C1580.3,825.4 1581.7,825.5 1583.0,825.6 C1584.3,825.7 1585.7,825.7 1587.0,825.8 C1588.3,825.9 1589.7,825.9 1591.0,826.0 C1592.3,826.0 1593.7,826.1 1595.0,826.1 C1596.3,826.1 1597.7,826.1 1599.0,826.1 C1600.3,826.1 1601.7,826.1 1603.0,826.1 C1604.3,826.1 1605.7,826.1 1607.0,826.1 C1608.3,826.1 1609.7,826.0 1611.0,826.0 C1612.3,825.9 1613.7,825.9 1615.0,825.8 C1616.3,825.7 1617.7,825.7 1619.0,825.6 C1620.3,825.5 1621.7,825.4 1623.0,825.3 C1624.3,825.2 1625.7,825.1 1627.0,825.0 C1628.3,824.9 1629.7,824.8 1631.0,824.6 C1632.3,824.5 1633.7,824.4 1635.0,824.2 C1636.3,824.1 1637.7,823.9 1639.0,823.8 C1640.3,823.6 1641.7,823.5 1643.0,823.3 C1644.3,823.1 1645.7,822.9 1647.0,822.8 C1648.3,822.6 1649.7,822.4 1651.0,822.2 C1652.3,822.0 1653.7,821.8 1655.0,821.6 C1656.3,821.4 1657.7,821.2 1659.0,821.0 C1660.3,820.7 1661.7,820.5 1663.0,820.3 C1664.3,820.1 1665.7,819.8 1667.0,819.6 C1668.3,819.3 1669.7,819.1 1671.0,818.9 C1672.3,818.6 1673.7,818.4 1675.0,818.1 C1676.3,817.8 1677.7,817.6 1679.0,817.3 C1680.3,817.1 1681.7,816.8 1683.0,816.5 C1684.3,816.2 1685.7,816.0 1687.0,815.7 C1688.3,815.4 1689.7,815.1 1691.0,814.8 C1692.3,814.6 1693.7,814.3 1695.0,814.0 C1696.3,813.7 1697.7,813.4 1699.0,813.1 C1700.3,812.8 1701.7,812.5 1703.0,812.2 C1704.3,811.9 1705.7,811.6 1707.0,811.3 C1708.3,811.0 1709.7,810.7 1711.0,810.4 C1712.3,810.1 1713.7,809.8 1715.0,809.5 C1716.3,809.2 1717.7,808.9 1719.0,808.6 C1720.3,808.2 1721.7,807.9 1723.0,807.6 C1724.3,807.3 1725.7,807.0 1727.0,806.7 C1728.3,806.4 1729.7,806.1 1731.0,805.8 C1732.3,805.4 1733.7,805.1 1735.0,804.8 C1736.3,804.5 1737.7,804.2 1739.0,803.9 C1740.3,803.6 1741.7,803.3 1743.0,803.0 C1744.3,802.7 1745.7,802.3 1747.0,802.0 C1748.3,801.7 1749.7,801.4 1751.0,801.1 C1752.3,800.8 1753.7,800.5 1755.0,800.2 C1756.3,799.9 1757.7,799.6 1759.0,799.3 C1760.3,799.0 1761.7,798.7 1763.0,798.5 C1764.3,798.2 1765.7,797.9 1767.0,797.6 C1768.3,797.3 1769.7,797.0 1771.0,796.8 C1772.3,796.5 1773.7,796.2 1775.0,795.9 C1776.3,795.7 1777.7,795.4 1779.0,795.1 C1780.3,794.9 1781.7,794.6 1783.0,794.3 C1784.3,794.1 1785.7,793.8 1787.0,793.6 C1788.3,793.3 1789.7,793.1 1791.0,792.9 C1792.3,792.6 1793.7,792.4 1795.0,792.2 C1796.3,791.9 1797.7,791.7 1799.0,791.5 C1800.3,791.3 1801.7,791.1 1803.0,790.8 C1804.3,790.6 1805.7,790.4 1807.0,790.2 C1808.3,790.0 1809.7,789.9 1811.0,789.7 C1812.3,789.5 1813.7,789.3 1815.0,789.1 C1816.3,789.0 1817.7,788.8 1819.0,788.7 C1820.3,788.5 1821.7,788.3 1823.0,788.2 C1824.3,788.1 1825.7,787.9 1827.0,787.8 C1828.3,787.7 1829.7,787.5 1831.0,787.4 C1832.3,787.3 1833.7,787.2 1835.0,787.1 C1836.3,787.0 1837.7,786.9 1839.0,786.8 C1840.3,786.7 1841.7,786.6 1843.0,786.5 C1844.3,786.5 1845.7,786.4 1847.0,786.3 C1848.3,786.3 1849.7,786.2 1851.0,786.2 C1852.3,786.1 1853.7,786.1 1855.0,786.1 C1856.3,786.0 1857.7,786.0 1859.0,786.0 C1860.3,786.0 1861.7,786.0 1863.0,786.0 C1864.3,786.0 1865.7,786.0 1867.0,786.0 C1868.3,786.0 1869.7,786.0 1871.0,786.0 C1872.3,786.1 1873.7,786.1 1875.0,786.2 C1876.3,786.2 1877.7,786.3 1879.0,786.3 C1880.3,786.4 1881.7,786.5 1883.0,786.6 C1884.3,786.6 1885.7,786.7 1887.0,786.8 C1888.3,786.9 1889.7,787.0 1891.0,787.1 C1892.3,787.3 1893.7,787.4 1895.0,787.5 C1896.3,787.6 1897.7,787.8 1899.0,787.9 C1900.3,788.1 1901.7,788.3 1903.0,788.4 C1904.3,788.6 1905.7,788.8 1907.0,789.0 C1908.3,789.1 1909.7,789.3 1911.0,789.5 C1912.3,789.8 1913.7,790.0 1915.0,790.2 C1916.3,790.4 1917.7,790.6 1919.0,790.9 C1920.3,791.1 1921.7,791.4 1923.0,791.7 C1924.3,791.9 1925.7,792.2 1927.0,792.5 C1928.3,792.7 1929.7,793.0 1931.0,793.3 C1932.3,793.6 1933.7,793.9 1935.0,794.3 C1936.3,794.6 1937.7,794.9 1939.0,795.2 C1940.3,795.6 1941.7,795.9 1943.0,796.2 C1944.3,796.6 1945.7,796.9 1947.0,797.3 C1948.3,797.6 1949.7,798.0 1951.0,798.4 C1952.3,798.8 1953.7,799.1 1955.0,799.5 C1956.3,799.9 1957.7,800.3 1959.0,800.7 C1960.3,801.1 1961.7,801.5 1963.0,801.9 C1964.3,802.3 1965.7,802.7 1967.0,803.1 C1968.3,803.5 1969.7,803.9 1971.0,804.3 C1972.3,804.7 1973.7,805.2 1975.0,805.6 C1976.3,806.0 1977.7,806.5 1979.0,806.9 C1980.3,807.3 1981.7,807.8 1983.0,808.2 C1984.3,808.6 1985.7,809.1 1987.0,809.5 C1988.3,809.9 1989.7,810.4 1991.0,810.8 C1992.3,811.3 1993.7,811.7 1995.0,812.2 C1996.3,812.6 1997.7,813.1 1999.0,813.5 C2000.3,814.0 2001.7,814.4 2003.0,814.9 C2004.3,815.3 2005.7,815.8 2007.0,816.2 C2008.3,816.7 2009.7,817.1 2011.0,817.5 C2012.3,818.0 2013.7,818.4 2015.0,818.9 C2016.3,819.3 2017.7,819.8 2019.0,820.2 C2020.3,820.7 2021.7,821.1 2023.0,821.5 C2024.3,822.0 2025.7,822.4 2027.0,822.8 C2028.3,823.3 2029.7,823.7 2031.0,824.1 C2032.3,824.5 2033.7,825.0 2035.0,825.4 C2036.3,825.8 2037.7,826.2 2039.0,826.6 C2040.3,827.0 2041.7,827.4 2043.0,827.9 C2044.3,828.3 2045.7,828.7 2047.0,829.0 C2048.3,829.4 2049.7,829.8 2051.0,830.2 C2052.3,830.6 2053.7,831.0 2055.0,831.4 C2056.3,831.7 2057.7,832.1 2059.0,832.5 C2060.3,832.9 2061.7,833.2 2063.0,833.6 C2064.3,833.9 2065.7,834.3 2067.0,834.6 C2068.3,835.0 2069.7,835.3 2071.0,835.7 C2072.3,836.0 2073.7,836.3 2075.0,836.6 C2076.3,837.0 2077.7,837.3 2079.0,837.6 C2080.3,837.9 2081.7,838.2 2083.0,838.5 C2084.3,838.8 2085.7,839.1 2087.0,839.4 C2088.3,839.7 2089.7,840.0 2091.0,840.2 C2092.3,840.5 2093.7,840.8 2095.0,841.0 C2096.3,841.3 2097.7,841.5 2099.0,841.8 C2100.3,842.0 2101.7,842.3 2103.0,842.5 C2104.3,842.7 2105.7,843.0 2107.0,843.2 C2108.3,843.4 2109.7,843.6 2111.0,843.8 C2112.3,844.0 2113.7,844.2 2115.0,844.4 C2116.3,844.5 2117.7,844.7 2119.0,844.9 C2120.3,845.0 2121.7,845.2 2123.0,845.4 C2124.3,845.5 2125.7,845.6 2127.0,845.8 C2128.3,845.9 2129.7,846.0 2131.0,846.1 C2132.3,846.2 2133.7,846.4 2135.0,846.4 C2136.3,846.5 2137.7,846.6 2139.0,846.7 C2140.3,846.8 2141.7,846.8 2143.0,846.9 C2144.3,846.9 2145.7,847.0 2147.0,847.0 C2148.3,847.1 2149.7,847.1 2151.0,847.1 C2152.3,847.1 2153.7,847.1 2155.0,847.1 C2156.3,847.1 2157.7,847.1 2159.0,847.1 C2160.3,847.0 2161.7,847.0 2163.0,846.9 C2164.3,846.9 2165.7,846.8 2167.0,846.7 C2168.3,846.7 2169.7,846.6 2171.0,846.5 C2172.3,846.4 2173.7,846.3 2175.0,846.2 C2176.3,846.1 2177.7,845.9 2179.0,845.8 C2180.3,845.7 2181.7,845.5 2183.0,845.4 C2184.3,845.2 2185.7,845.0 2187.0,844.9 C2188.3,844.7 2189.7,844.5 2191.0,844.3 C2192.3,844.1 2193.7,843.9 2195.0,843.7 C2196.3,843.5 2197.7,843.3 2199.0,843.1 C2200.3,842.9 2201.7,842.7 2203.0,842.4 C2204.3,842.2 2205.7,842.0 2207.0,841.7 C2208.3,841.5 2209.7,841.2 2211.0,841.0 C2212.3,840.7 2213.7,840.4 2215.0,840.2 C2216.3,839.9 2217.7,839.6 2219.0,839.4 C2220.3,839.1 2221.7,838.8 2223.0,838.5 C2224.3,838.2 2225.7,838.0 2227.0,837.7 C2228.3,837.4 2229.7,837.1 2231.0,836.8 C2232.3,836.5 2233.7,836.2 2235.0,835.9 C2236.3,835.6 2237.7,835.3 2239.0,835.0 C2240.3,834.7 2241.7,834.4 2243.0,834.1 C2244.3,833.8 2245.7,833.5 2247.0,833.1 C2248.3,832.8 2249.7,832.5 2251.0,832.2 C2252.3,831.9 2253.7,831.6 2255.0,831.3 C2256.3,831.0 2257.7,830.7 2259.0,830.4 C2260.3,830.1 2261.7,829.8 2263.0,829.4 C2264.3,829.1 2265.7,828.8 2267.0,828.5 C2268.3,828.2 2269.7,827.9 2271.0,827.6 C2272.3,827.4 2273.7,827.1 2275.0,826.8 C2276.3,826.5 2277.7,826.2 2279.0,825.9 C2280.3,825.6 2281.7,825.4 2283.0,825.1 C2284.3,824.8 2285.7,824.5 2287.0,824.3 C2288.3,824.0 2289.7,823.7 2291.0,823.5 C2292.3,823.2 2293.7,823.0 2295.0,822.7 C2296.3,822.5 2297.8,822.2 2299.0,822.0 C2300.2,821.8 2301.5,821.6 2302.0,821.5" fill="none" stroke="#00faaf" stroke-width="11" stroke-linecap="round" stroke-linejoin="round"/><path d="M444.1,690.5 C444.8,689.5 446.8,686.7 448.1,684.8 C449.4,682.9 450.8,681.0 452.1,679.1 C453.4,677.2 454.8,675.3 456.1,673.4 C457.4,671.5 458.8,669.6 460.1,667.8 C461.4,665.9 462.8,664.0 464.1,662.1 C465.4,660.3 466.8,658.4 468.1,656.5 C469.4,654.7 470.8,652.8 472.1,651.0 C473.4,649.1 474.8,647.3 476.1,645.4 C477.4,643.6 478.8,641.8 480.1,640.0 C481.4,638.2 482.8,636.4 484.1,634.6 C485.4,632.8 486.8,631.0 488.1,629.2 C489.4,627.4 490.8,625.7 492.1,623.9 C493.4,622.1 494.8,620.4 496.1,618.7 C497.4,616.9 498.8,615.2 500.1,613.5 C501.4,611.8 502.8,610.1 504.1,608.4 C505.4,606.7 506.8,605.1 508.1,603.4 C509.4,601.8 510.8,600.1 512.1,598.5 C513.4,596.9 514.8,595.3 516.1,593.7 C517.4,592.1 518.8,590.6 520.1,589.0 C521.4,587.4 522.8,585.9 524.1,584.4 C525.4,582.9 526.8,581.4 528.1,579.9 C529.4,578.4 530.8,577.0 532.1,575.5 C533.4,574.1 534.8,572.7 536.1,571.3 C537.4,569.9 538.8,568.5 540.1,567.1 C541.4,565.8 542.8,564.4 544.1,563.1 C545.4,561.8 546.8,560.5 548.1,559.3 C549.4,558.0 550.8,556.8 552.1,555.5 C553.4,554.3 554.8,553.1 556.1,552.0 C557.4,550.8 558.8,549.7 560.1,548.5 C561.4,547.4 562.8,546.3 564.1,545.3 C565.4,544.2 566.8,543.2 568.1,542.2 C569.4,541.2 570.8,540.2 572.1,539.2 C573.4,538.3 574.8,537.4 576.1,536.5 C577.4,535.6 578.8,534.7 580.1,533.9 C581.4,533.1 582.8,532.3 584.1,531.5 C585.4,530.7 586.8,530.0 588.1,529.3 C589.4,528.6 590.8,527.9 592.1,527.3 C593.4,526.7 594.8,526.1 596.1,525.5 C597.4,524.9 598.8,524.4 600.1,523.9 C601.4,523.4 602.8,522.9 604.1,522.5 C605.4,522.1 606.8,521.7 608.1,521.3 C609.4,520.9 610.8,520.6 612.1,520.3 C613.4,520.0 614.8,519.7 616.1,519.5 C617.4,519.2 618.8,519.0 620.1,518.8 C621.4,518.6 622.8,518.5 624.1,518.4 C625.4,518.2 626.8,518.1 628.1,518.0 C629.4,518.0 630.8,517.9 632.1,517.9 C633.4,517.9 634.8,517.9 636.1,517.9 C637.4,517.9 638.8,517.9 640.1,518.0 C641.4,518.1 642.8,518.1 644.1,518.3 C645.4,518.4 646.8,518.5 648.1,518.6 C649.4,518.8 650.8,518.9 652.1,519.1 C653.4,519.3 654.8,519.5 656.1,519.7 C657.4,520.0 658.8,520.2 660.1,520.4 C661.4,520.7 662.8,521.0 664.1,521.2 C665.4,521.5 666.8,521.8 668.1,522.1 C669.4,522.4 670.8,522.7 672.1,523.1 C673.4,523.4 674.8,523.7 676.1,524.1 C677.4,524.5 678.8,524.8 680.1,525.2 C681.4,525.6 682.8,526.0 684.1,526.4 C685.4,526.8 686.8,527.2 688.1,527.6 C689.4,528.0 690.8,528.5 692.1,528.9 C693.4,529.3 694.8,529.8 696.1,530.3 C697.4,530.7 698.8,531.2 700.1,531.7 C701.4,532.2 702.8,532.7 704.1,533.2 C705.4,533.7 706.8,534.2 708.1,534.7 C709.4,535.2 710.8,535.8 712.1,536.3 C713.4,536.8 714.8,537.4 716.1,537.9 C717.4,538.5 718.8,539.1 720.1,539.6 C721.4,540.2 722.8,540.8 724.1,541.4 C725.4,542.0 726.8,542.6 728.1,543.2 C729.4,543.8 730.8,544.4 732.1,545.0 C733.4,545.6 734.8,546.3 736.1,546.9 C737.4,547.5 738.8,548.2 740.1,548.8 C741.4,549.5 742.8,550.1 744.1,550.8 C745.4,551.5 746.8,552.1 748.1,552.8 C749.4,553.5 750.8,554.2 752.1,554.9 C753.4,555.6 754.8,556.4 756.1,557.1 C757.4,557.8 758.8,558.6 760.1,559.3 C761.4,560.1 762.8,560.9 764.1,561.6 C765.4,562.4 766.8,563.2 768.1,564.0 C769.4,564.9 770.8,565.7 772.1,566.6 C773.4,567.4 774.8,568.3 776.1,569.2 C777.4,570.0 778.8,570.9 780.1,571.9 C781.4,572.8 782.8,573.7 784.1,574.7 C785.4,575.7 786.8,576.6 788.1,577.7 C789.4,578.7 790.8,579.7 792.1,580.7 C793.4,581.8 794.8,582.9 796.1,583.9 C797.4,585.0 798.8,586.2 800.1,587.3 C801.4,588.4 802.8,589.6 804.1,590.8 C805.4,592.0 806.8,593.2 808.1,594.5 C809.4,595.7 810.8,597.0 812.1,598.3 C813.4,599.6 814.8,600.9 816.1,602.3 C817.4,603.6 818.8,605.0 820.1,606.4 C821.4,607.8 822.8,609.3 824.1,610.7 C825.4,612.2 826.8,613.6 828.1,615.1 C829.4,616.6 830.8,618.1 832.1,619.7 C833.4,621.2 834.8,622.8 836.1,624.3 C837.4,625.9 838.8,627.5 840.1,629.1 C841.4,630.7 842.8,632.3 844.1,633.9 C845.4,635.5 846.8,637.1 848.1,638.8 C849.4,640.4 850.8,642.1 852.1,643.7 C853.4,645.4 854.8,647.0 856.1,648.7 C857.4,650.4 858.8,652.1 860.1,653.7 C861.4,655.4 862.8,657.1 864.1,658.8 C865.4,660.5 866.8,662.2 868.1,663.8 C869.4,665.5 870.8,667.2 872.1,668.9 C873.4,670.6 874.8,672.2 876.1,673.9 C877.4,675.6 878.8,677.3 880.1,678.9 C881.4,680.6 882.8,682.3 884.1,683.9 C885.4,685.5 886.8,687.2 888.1,688.8 C889.4,690.4 890.8,692.1 892.1,693.7 C893.4,695.3 894.8,696.9 896.1,698.5 C897.4,700.1 898.8,701.6 900.1,703.2 C901.4,704.8 902.8,706.3 904.1,707.9 C905.4,709.4 906.8,710.9 908.1,712.4 C909.4,713.9 910.8,715.4 912.1,716.9 C913.4,718.4 914.8,719.8 916.1,721.3 C917.4,722.7 918.8,724.1 920.1,725.5 C921.4,726.9 922.8,728.3 924.1,729.7 C925.4,731.0 926.8,732.4 928.1,733.7 C929.4,735.0 930.8,736.3 932.1,737.6 C933.4,738.9 934.8,740.1 936.1,741.3 C937.4,742.6 938.8,743.8 940.1,744.9 C941.4,746.1 942.8,747.3 944.1,748.4 C945.4,749.5 946.8,750.6 948.1,751.7 C949.4,752.8 950.8,753.8 952.1,754.8 C953.4,755.8 954.8,756.8 956.1,757.8 C957.4,758.7 958.8,759.6 960.1,760.5 C961.4,761.4 962.8,762.3 964.1,763.1 C965.4,763.9 966.8,764.7 968.1,765.5 C969.4,766.2 970.8,767.0 972.1,767.7 C973.4,768.4 974.8,769.0 976.1,769.6 C977.4,770.2 978.8,770.8 980.1,771.4 C981.4,771.9 982.8,772.4 984.1,772.9 C985.4,773.4 986.8,773.8 988.1,774.2 C989.4,774.6 990.8,775.0 992.1,775.4 C993.4,775.7 994.8,776.0 996.1,776.3 C997.4,776.6 998.8,776.9 1000.1,777.1 C1001.4,777.4 1002.8,777.6 1004.1,777.8 C1005.4,778.0 1006.8,778.2 1008.1,778.4 C1009.4,778.6 1010.8,778.7 1012.1,778.9 C1013.4,779.0 1014.8,779.1 1016.1,779.3 C1017.4,779.4 1018.8,779.5 1020.1,779.6 C1021.4,779.7 1022.8,779.8 1024.1,779.9 C1025.4,779.9 1026.8,780.0 1028.1,780.1 C1029.4,780.2 1030.8,780.3 1032.1,780.3 C1033.4,780.4 1034.8,780.5 1036.1,780.6 C1037.4,780.6 1038.8,780.7 1040.1,780.7 C1041.4,780.6 1042.8,780.6 1044.1,780.5 C1045.4,780.4 1046.8,780.3 1048.1,780.1 C1049.4,779.8 1050.8,779.5 1052.1,779.1 C1053.4,778.8 1054.8,778.3 1056.1,777.7 C1057.4,777.2 1058.8,776.6 1060.1,775.9 C1061.4,775.1 1062.8,774.3 1064.1,773.5 C1065.4,772.6 1066.8,771.6 1068.1,770.6 C1069.4,769.5 1070.8,768.4 1072.1,767.2 C1073.4,766.0 1074.8,764.7 1076.1,763.3 C1077.4,762.0 1078.8,760.5 1080.1,759.0 C1081.4,757.5 1082.8,755.9 1084.1,754.3 C1085.4,752.6 1086.8,751.0 1088.1,749.3 C1089.4,747.7 1090.8,746.0 1092.1,744.4 C1093.4,742.8 1094.8,741.1 1096.1,739.5 C1097.4,738.0 1098.8,736.4 1100.1,734.9 C1101.4,733.4 1102.8,731.9 1104.1,730.4 C1105.4,728.9 1106.8,727.5 1108.1,726.1 C1109.4,724.7 1110.8,723.3 1112.1,722.0 C1113.4,720.6 1114.8,719.3 1116.1,718.0 C1117.4,716.7 1118.8,715.4 1120.1,714.2 C1121.4,713.0 1122.8,711.7 1124.1,710.5 C1125.4,709.4 1126.8,708.2 1128.1,707.1 C1129.4,705.9 1130.8,704.8 1132.1,703.7 C1133.4,702.6 1134.8,701.6 1136.1,700.5 C1137.4,699.4 1138.8,698.4 1140.1,697.3 C1141.4,696.3 1142.8,695.2 1144.1,694.1 C1145.4,693.0 1146.8,691.8 1148.1,690.6 C1149.4,689.4 1150.8,688.2 1152.1,686.9 C1153.4,685.6 1154.8,684.3 1156.1,682.9 C1157.4,681.5 1158.8,680.0 1160.1,678.5 C1161.4,677.1 1162.8,675.5 1164.1,674.0 C1165.4,672.4 1166.8,670.9 1168.1,669.3 C1169.4,667.7 1170.8,666.1 1172.1,664.5 C1173.4,662.9 1174.8,661.3 1176.1,659.7 C1177.4,658.1 1178.8,656.4 1180.1,654.8 C1181.4,653.2 1182.8,651.7 1184.1,650.1 C1185.4,648.5 1186.8,647.0 1188.1,645.4 C1189.4,643.8 1190.8,642.3 1192.1,640.8 C1193.4,639.2 1194.8,637.7 1196.1,636.2 C1197.4,634.7 1198.8,633.2 1200.1,631.7 C1201.4,630.2 1202.8,628.8 1204.1,627.3 C1205.4,625.9 1206.8,624.4 1208.1,623.0 C1209.4,621.5 1210.8,620.1 1212.1,618.7 C1213.4,617.3 1214.8,615.9 1216.1,614.5 C1217.4,613.1 1218.8,611.7 1220.1,610.4 C1221.4,609.0 1222.8,607.7 1224.1,606.3 C1225.4,605.0 1226.8,603.7 1228.1,602.3 C1229.4,601.0 1230.8,599.7 1232.1,598.5 C1233.4,597.2 1234.8,595.9 1236.1,594.6 C1237.4,593.4 1238.8,592.1 1240.1,590.9 C1241.4,589.7 1242.8,588.5 1244.1,587.3 C1245.4,586.1 1246.8,584.9 1248.1,583.7 C1249.4,582.5 1250.8,581.4 1252.1,580.2 C1253.4,579.1 1254.8,577.9 1256.1,576.8 C1257.4,575.7 1258.8,574.6 1260.1,573.5 C1261.4,572.4 1262.8,571.4 1264.1,570.3 C1265.4,569.2 1266.8,568.2 1268.1,567.2 C1269.4,566.2 1270.8,565.1 1272.1,564.1 C1273.4,563.1 1274.8,562.2 1276.1,561.2 C1277.4,560.2 1278.8,559.3 1280.1,558.4 C1281.4,557.4 1282.8,556.5 1284.1,555.6 C1285.4,554.7 1286.8,553.8 1288.1,552.9 C1289.4,552.1 1290.8,551.2 1292.1,550.4 C1293.4,549.6 1294.8,548.7 1296.1,547.9 C1297.4,547.1 1298.8,546.3 1300.1,545.6 C1301.4,544.8 1302.8,544.0 1304.1,543.3 C1305.4,542.6 1306.8,541.9 1308.1,541.2 C1309.4,540.5 1310.8,539.8 1312.1,539.1 C1313.4,538.4 1314.8,537.8 1316.1,537.2 C1317.4,536.5 1318.8,535.9 1320.1,535.3 C1321.4,534.7 1322.8,534.1 1324.1,533.6 C1325.4,533.0 1326.8,532.5 1328.1,532.0 C1329.4,531.4 1330.8,530.9 1332.1,530.4 C1333.4,530.0 1334.8,529.5 1336.1,529.0 C1337.4,528.6 1338.8,528.2 1340.1,527.8 C1341.4,527.3 1342.8,526.9 1344.1,526.6 C1345.4,526.2 1346.8,525.8 1348.1,525.5 C1349.4,525.2 1350.8,524.9 1352.1,524.6 C1353.4,524.3 1354.8,524.0 1356.1,523.7 C1357.4,523.5 1358.8,523.2 1360.1,523.0 C1361.4,522.8 1362.8,522.6 1364.1,522.4 C1365.4,522.2 1366.8,522.1 1368.1,521.9 C1369.4,521.8 1370.8,521.7 1372.1,521.6 C1373.4,521.5 1374.8,521.4 1376.1,521.3 C1377.4,521.3 1378.8,521.2 1380.1,521.2 C1381.4,521.2 1382.8,521.2 1384.1,521.2 C1385.4,521.3 1386.8,521.3 1388.1,521.4 C1389.4,521.5 1390.8,521.5 1392.1,521.7 C1393.4,521.8 1394.8,521.9 1396.1,522.0 C1397.4,522.2 1398.8,522.4 1400.1,522.6 C1401.4,522.8 1402.8,523.0 1404.1,523.2 C1405.4,523.5 1406.8,523.7 1408.1,524.0 C1409.4,524.3 1410.8,524.6 1412.1,524.9 C1413.4,525.3 1414.8,525.6 1416.1,526.0 C1417.4,526.4 1418.8,526.8 1420.1,527.2 C1421.4,527.6 1422.8,528.1 1424.1,528.6 C1425.4,529.0 1426.8,529.5 1428.1,530.1 C1429.4,530.6 1430.8,531.1 1432.1,531.7 C1433.4,532.3 1434.8,532.9 1436.1,533.5 C1437.4,534.1 1438.8,534.8 1440.1,535.5 C1441.4,536.1 1442.8,536.8 1444.1,537.6 C1445.4,538.3 1446.8,539.1 1448.1,539.8 C1449.4,540.6 1450.8,541.4 1452.1,542.3 C1453.4,543.1 1454.8,544.0 1456.1,544.9 C1457.4,545.7 1458.8,546.7 1460.1,547.6 C1461.4,548.5 1462.8,549.5 1464.1,550.5 C1465.4,551.5 1466.8,552.5 1468.1,553.6 C1469.4,554.6 1470.8,555.7 1472.1,556.8 C1473.4,557.9 1474.8,559.0 1476.1,560.1 C1477.4,561.2 1478.8,562.4 1480.1,563.5 C1481.4,564.7 1482.8,565.8 1484.1,567.0 C1485.4,568.2 1486.8,569.4 1488.1,570.6 C1489.4,571.8 1490.8,573.1 1492.1,574.3 C1493.4,575.5 1494.8,576.8 1496.1,578.0 C1497.4,579.3 1498.8,580.5 1500.1,581.8 C1501.4,583.1 1502.8,584.3 1504.1,585.6 C1505.4,586.9 1506.8,588.1 1508.1,589.4 C1509.4,590.7 1510.8,592.0 1512.1,593.2 C1513.4,594.5 1514.8,595.8 1516.1,597.0 C1517.4,598.3 1518.8,599.6 1520.1,600.8 C1521.4,602.1 1522.8,603.3 1524.1,604.6 C1525.4,605.8 1526.8,607.0 1528.1,608.3 C1529.4,609.5 1530.8,610.7 1532.1,611.9 C1533.4,613.2 1534.8,614.4 1536.1,615.6 C1537.4,616.8 1538.8,618.0 1540.1,619.2 C1541.4,620.4 1542.8,621.7 1544.1,622.9 C1545.4,624.1 1546.8,625.3 1548.1,626.6 C1549.4,627.8 1550.8,629.0 1552.1,630.3 C1553.4,631.5 1554.8,632.7 1556.1,634.0 C1557.4,635.3 1558.8,636.5 1560.1,637.8 C1561.4,639.1 1562.8,640.4 1564.1,641.7 C1565.4,643.0 1566.8,644.3 1568.1,645.7 C1569.4,647.0 1570.8,648.4 1572.1,649.7 C1573.4,651.1 1574.8,652.5 1576.1,653.9 C1577.4,655.3 1578.8,656.7 1580.1,658.2 C1581.4,659.6 1582.8,661.1 1584.1,662.6 C1585.4,664.1 1586.8,665.7 1588.1,667.2 C1589.4,668.8 1590.8,670.3 1592.1,672.0 C1593.4,673.6 1594.8,675.2 1596.1,676.9 C1597.4,678.5 1598.8,680.2 1600.1,682.0 C1601.4,683.7 1602.8,685.5 1604.1,687.3 C1605.4,689.1 1606.8,690.9 1608.1,692.8 C1609.4,694.7 1610.8,696.6 1612.1,698.6 C1613.4,700.5 1614.8,702.5 1616.1,704.6 C1617.4,706.6 1618.8,708.7 1620.1,710.8 C1621.4,712.9 1622.8,715.0 1624.1,717.2 C1625.4,719.3 1626.8,721.5 1628.1,723.7 C1629.4,725.9 1630.8,728.1 1632.1,730.3 C1633.4,732.5 1634.8,734.7 1636.1,736.9 C1637.4,739.1 1638.8,741.4 1640.1,743.6 C1641.4,745.8 1642.8,748.0 1644.1,750.1 C1645.4,752.3 1646.8,754.5 1648.1,756.6 C1649.4,758.7 1650.8,760.9 1652.1,762.9 C1653.4,765.0 1654.8,767.1 1656.1,769.1 C1657.4,771.1 1658.8,773.0 1660.1,774.9 C1661.4,776.9 1662.8,778.7 1664.1,780.5 C1665.4,782.3 1666.8,784.1 1668.1,785.8 C1669.4,787.5 1670.8,789.1 1672.1,790.7 C1673.4,792.3 1674.8,793.8 1676.1,795.3 C1677.4,796.8 1678.8,798.2 1680.1,799.6 C1681.4,801.0 1682.8,802.3 1684.1,803.6 C1685.4,804.9 1686.8,806.2 1688.1,807.4 C1689.4,808.6 1690.8,809.8 1692.1,810.9 C1693.4,812.1 1694.8,813.2 1696.1,814.3 C1697.4,815.3 1698.8,816.4 1700.1,817.4 C1701.4,818.4 1702.8,819.4 1704.1,820.4 C1705.4,821.3 1706.8,822.3 1708.1,823.2 C1709.4,824.1 1710.8,825.0 1712.1,825.9 C1713.4,826.7 1714.8,827.6 1716.1,828.4 C1717.4,829.3 1718.8,830.1 1720.1,830.9 C1721.4,831.8 1722.8,832.6 1724.1,833.4 C1725.4,834.2 1726.8,835.0 1728.1,835.8 C1729.4,836.6 1730.8,837.4 1732.1,838.1 C1733.4,838.9 1734.8,839.7 1736.1,840.4 C1737.4,841.2 1738.8,841.9 1740.1,842.7 C1741.4,843.4 1742.8,844.2 1744.1,844.9 C1745.4,845.6 1746.8,846.3 1748.1,847.0 C1749.4,847.7 1750.8,848.4 1752.1,849.0 C1753.4,849.7 1754.8,850.3 1756.1,851.0 C1757.4,851.6 1758.8,852.2 1760.1,852.9 C1761.4,853.5 1762.8,854.0 1764.1,854.6 C1765.4,855.2 1766.8,855.8 1768.1,856.3 C1769.4,856.8 1770.8,857.3 1772.1,857.8 C1773.4,858.3 1774.8,858.8 1776.1,859.3 C1777.4,859.7 1778.8,860.2 1780.1,860.6 C1781.4,861.0 1782.8,861.4 1784.1,861.8 C1785.4,862.1 1786.8,862.5 1788.1,862.8 C1789.4,863.1 1790.8,863.4 1792.1,863.7 C1793.4,864.0 1794.8,864.2 1796.1,864.4 C1797.4,864.7 1798.8,864.9 1800.1,865.0 C1801.4,865.2 1802.8,865.3 1804.1,865.4 C1805.4,865.5 1806.8,865.6 1808.1,865.7 C1809.4,865.7 1810.8,865.7 1812.1,865.7 C1813.4,865.7 1814.8,865.7 1816.1,865.6 C1817.4,865.5 1818.8,865.4 1820.1,865.3 C1821.4,865.1 1822.8,865.0 1824.1,864.7 C1825.4,864.5 1826.8,864.3 1828.1,864.0 C1829.4,863.7 1830.8,863.4 1832.1,863.1 C1833.4,862.7 1834.8,862.3 1836.1,861.9 C1837.4,861.4 1838.8,861.0 1840.1,860.5 C1841.4,860.0 1842.8,859.4 1844.1,858.8 C1845.4,858.3 1846.8,857.7 1848.1,857.0 C1849.4,856.4 1850.8,855.7 1852.1,855.0 C1853.4,854.4 1854.8,853.6 1856.1,852.9 C1857.4,852.2 1858.8,851.4 1860.1,850.7 C1861.4,849.9 1862.8,849.1 1864.1,848.3 C1865.4,847.5 1866.8,846.7 1868.1,845.9 C1869.4,845.1 1870.8,844.3 1872.1,843.4 C1873.4,842.6 1874.8,841.8 1876.1,841.0 C1877.4,840.1 1878.8,839.3 1880.1,838.5 C1881.4,837.7 1882.8,836.8 1884.1,836.0 C1885.4,835.2 1886.8,834.4 1888.1,833.6 C1889.4,832.8 1890.8,832.0 1892.1,831.3 C1893.4,830.5 1894.8,829.8 1896.1,829.0 C1897.4,828.3 1898.8,827.6 1900.1,826.8 C1901.4,826.1 1902.8,825.3 1904.1,824.5 C1905.4,823.7 1906.8,822.9 1908.1,822.1 C1909.4,821.2 1910.8,820.3 1912.1,819.4 C1913.4,818.4 1914.8,817.4 1916.1,816.3 C1917.4,815.2 1918.8,814.1 1920.1,812.8 C1921.4,811.6 1922.8,810.2 1924.1,808.8 C1925.4,807.4 1926.8,805.9 1928.1,804.3 C1929.4,802.8 1930.8,801.1 1932.1,799.5 C1933.4,797.8 1934.8,796.1 1936.1,794.4 C1937.4,792.6 1938.8,790.8 1940.1,789.0 C1941.4,787.3 1942.8,785.4 1944.1,783.6 C1945.4,781.8 1946.8,780.0 1948.1,778.2 C1949.4,776.4 1950.8,774.6 1952.1,772.9 C1953.4,771.2 1954.8,769.4 1956.1,767.7 C1957.4,766.1 1958.8,764.4 1960.1,762.9 C1961.4,761.3 1962.8,759.7 1964.1,758.2 C1965.4,756.7 1966.8,755.3 1968.1,753.9 C1969.4,752.4 1970.8,751.1 1972.1,749.7 C1973.4,748.4 1974.8,747.0 1976.1,745.8 C1977.4,744.5 1978.8,743.2 1980.1,742.0 C1981.4,740.7 1982.8,739.5 1984.1,738.3 C1985.4,737.2 1986.8,736.0 1988.1,734.8 C1989.4,733.7 1990.8,732.6 1992.1,731.5 C1993.4,730.4 1994.8,729.3 1996.1,728.2 C1997.4,727.1 1998.8,726.0 2000.1,725.0 C2001.4,723.9 2002.8,722.9 2004.1,721.8 C2005.4,720.8 2006.8,719.8 2008.1,718.7 C2009.4,717.7 2010.8,716.7 2012.1,715.6 C2013.4,714.6 2014.8,713.6 2016.1,712.6 C2017.4,711.5 2018.8,710.5 2020.1,709.5 C2021.4,708.4 2022.8,707.4 2024.1,706.3 C2025.4,705.3 2026.8,704.2 2028.1,703.1 C2029.4,702.1 2030.8,701.0 2032.1,699.9 C2033.4,698.8 2034.8,697.7 2036.1,696.5 C2037.4,695.4 2038.8,694.3 2040.1,693.2 C2041.4,692.0 2042.8,690.9 2044.1,689.7 C2045.4,688.6 2046.8,687.4 2048.1,686.3 C2049.4,685.1 2050.8,683.9 2052.1,682.8 C2053.4,681.6 2054.8,680.5 2056.1,679.3 C2057.4,678.2 2058.8,677.0 2060.1,675.9 C2061.4,674.8 2062.8,673.6 2064.1,672.5 C2065.4,671.4 2066.8,670.3 2068.1,669.2 C2069.4,668.1 2070.8,667.0 2072.1,666.0 C2073.4,664.9 2074.8,663.9 2076.1,662.9 C2077.4,661.8 2078.8,660.8 2080.1,659.9 C2081.4,658.9 2082.8,657.9 2084.1,657.0 C2085.4,656.1 2086.8,655.1 2088.1,654.3 C2089.4,653.4 2090.8,652.5 2092.1,651.7 C2093.4,650.9 2094.8,650.1 2096.1,649.3 C2097.4,648.6 2098.8,647.8 2100.1,647.1 C2101.4,646.4 2102.8,645.7 2104.1,645.0 C2105.4,644.3 2106.8,643.7 2108.1,643.1 C2109.4,642.4 2110.8,641.8 2112.1,641.3 C2113.4,640.7 2114.8,640.1 2116.1,639.6 C2117.4,639.1 2118.8,638.6 2120.1,638.1 C2121.4,637.6 2122.8,637.2 2124.1,636.7 C2125.4,636.3 2126.8,635.9 2128.1,635.5 C2129.4,635.1 2130.8,634.7 2132.1,634.4 C2133.4,634.0 2134.8,633.7 2136.1,633.4 C2137.4,633.1 2138.8,632.8 2140.1,632.6 C2141.4,632.3 2142.8,632.0 2144.1,631.8 C2145.4,631.6 2146.8,631.4 2148.1,631.2 C2149.4,631.0 2150.8,630.8 2152.1,630.7 C2153.4,630.6 2154.8,630.4 2156.1,630.3 C2157.4,630.2 2158.8,630.1 2160.1,630.0 C2161.4,630.0 2162.8,629.9 2164.1,629.9 C2165.4,629.8 2166.8,629.8 2168.1,629.8 C2169.4,629.8 2170.8,629.8 2172.1,629.8 C2173.4,629.9 2174.8,629.9 2176.1,630.0 C2177.4,630.0 2178.8,630.1 2180.1,630.2 C2181.4,630.3 2182.8,630.4 2184.1,630.5 C2185.4,630.6 2186.8,630.7 2188.1,630.9 C2189.4,631.0 2190.8,631.2 2192.1,631.4 C2193.4,631.6 2194.8,631.7 2196.1,631.9 C2197.4,632.1 2198.8,632.4 2200.1,632.6 C2201.4,632.8 2202.8,633.1 2204.1,633.3 C2205.4,633.6 2206.8,633.8 2208.1,634.1 C2209.4,634.4 2210.8,634.7 2212.1,635.0 C2213.4,635.3 2214.8,635.6 2216.1,635.9 C2217.4,636.2 2218.8,636.6 2220.1,636.9 C2221.4,637.2 2222.8,637.6 2224.1,638.0 C2225.4,638.3 2226.8,638.7 2228.1,639.1 C2229.4,639.5 2230.8,639.8 2232.1,640.2 C2233.4,640.6 2234.8,641.1 2236.1,641.5 C2237.4,641.9 2238.8,642.3 2240.1,642.7 C2241.4,643.2 2242.8,643.6 2244.1,644.0 C2245.4,644.5 2246.8,644.9 2248.1,645.4 C2249.4,645.9 2250.8,646.3 2252.1,646.8 C2253.4,647.3 2254.8,647.7 2256.1,648.2 C2257.4,648.7 2258.8,649.2 2260.1,649.7 C2261.4,650.2 2262.8,650.7 2264.1,651.2 C2265.4,651.7 2266.8,652.2 2268.1,652.7 C2269.4,653.2 2270.8,653.7 2272.1,654.3 C2273.4,654.8 2274.8,655.3 2276.1,655.8 C2277.4,656.3 2278.8,656.9 2280.1,657.4 C2281.4,657.9 2282.8,658.5 2284.1,659.0 C2285.4,659.5 2286.8,660.1 2288.1,660.6 C2289.4,661.2 2290.8,661.7 2292.1,662.2 C2293.4,662.8 2294.8,663.3 2296.1,663.9 C2297.4,664.4 2299.1,665.1 2300.1,665.5 C2301.1,665.9 2301.7,666.1 2302.0,666.3" fill="none" stroke="#ff00ee" stroke-width="8.5" stroke-linecap="round" stroke-linejoin="round"/><rect x="396" y="61.5" width="1906" height="1121.5" fill="none" stroke="#2d2d2d" stroke-width="3.6"/><line x1="396" y1="246.6" x2="425" y2="246.6" stroke="#2d2d2d" stroke-width="3.6"/><line x1="396" y1="434.4" x2="425" y2="434.4" stroke="#2d2d2d" stroke-width="3.6"/><line x1="396" y1="622.2" x2="425" y2="622.2" stroke="#2d2d2d" stroke-width="3.6"/><line x1="396" y1="810.0" x2="425" y2="810.0" stroke="#2d2d2d" stroke-width="3.6"/><line x1="396" y1="997.8" x2="425" y2="997.8" stroke="#2d2d2d" stroke-width="3.6"/><line x1="778.2" y1="1183" x2="778.2" y2="1157" stroke="#2d2d2d" stroke-width="3.6"/><line x1="1157.7" y1="1183" x2="1157.7" y2="1157" stroke="#2d2d2d" stroke-width="3.6"/><line x1="1540.0" y1="1183" x2="1540.0" y2="1157" stroke="#2d2d2d" stroke-width="3.6"/><line x1="1922.2" y1="1183" x2="1922.2" y2="1157" stroke="#2d2d2d" stroke-width="3.6"/><path d="M1747.1,61.5 V590.4 H2303.5 V61.5" fill="none" stroke="#1e1e1e" stroke-width="3"/><line x1="1792.9" y1="139.20" x2="1941.9" y2="139.20" stroke="#ff1e28" stroke-width="6.5" stroke-linecap="round"/><line x1="1792.9" y1="215.76" x2="1941.9" y2="215.76" stroke="#ff00ee" stroke-width="6" stroke-linecap="round"/><line x1="1792.9" y1="292.32" x2="1941.9" y2="292.32" stroke="#ffc323" stroke-width="6.5" stroke-linecap="round"/><line x1="1792.9" y1="368.88" x2="1941.9" y2="368.88" stroke="#3000ff" stroke-width="6.5" stroke-linecap="round"/><line x1="1792.9" y1="445.44" x2="1941.9" y2="445.44" stroke="#00faaf" stroke-width="8" stroke-linecap="round"/><line x1="1792.9" y1="522.00" x2="1941.9" y2="522.00" stroke="#000000" stroke-width="6.5" stroke-linecap="round"/><text transform="translate(1978.81,132.5) scale(0.9394,1)" font-family="'Liberation Serif', 'Times New Roman', serif" font-size="73.4">No cutting</text><text transform="translate(2079.17,237.7) scale(0.9524,1)" font-family="'Liberation Serif', 'Times New Roman', serif" font-size="71.5">6:1</text><text transform="translate(2078.09,314.1) scale(0.9648,1)" font-family="'Liberation Serif', 'Times New Roman', serif" font-size="71.5">5:1</text><text transform="translate(2080.8,390.5) scale(0.9338,1)" font-family="'Liberation Serif', 'Times New Roman', serif" font-size="71.5">4:1</text><text transform="translate(2077.54,466.9) scale(0.9673,1)" font-family="'Liberation Serif', 'Times New Roman', serif" font-size="71.5">7:2</text><text transform="translate(2078.83,543.3) scale(0.9564,1)" font-family="'Liberation Serif', 'Times New Roman', serif" font-size="71.5">3:1</text><text x="223.04" y="88.97" font-family="'Liberation Serif', 'Times New Roman', serif" font-size="93">18</text><text x="224.63" y="276.59" font-family="'Liberation Serif', 'Times New Roman', serif" font-size="93">12</text><text x="268.77" y="464.23" font-family="'Liberation Serif', 'Times New Roman', serif" font-size="93">6</text><text x="269.54" y="652.27" font-family="'Liberation Serif', 'Times New Roman', serif" font-size="93">0</text><text x="237.8" y="837.33" font-family="'Liberation Serif', 'Times New Roman', serif" font-size="93"><tspan dy="4.3">-</tspan><tspan dy="-4.3">6</tspan></text><text x="193.66" y="1025.49" font-family="'Liberation Serif', 'Times New Roman', serif" font-size="93"><tspan dy="4.3">-</tspan><tspan dy="-4.3">12</tspan></text><text x="192.07" y="1213.77" font-family="'Liberation Serif', 'Times New Roman', serif" font-size="93"><tspan dy="4.3">-</tspan><tspan dy="-4.3">18</tspan></text><text x="371.75" y="1321.8" font-family="'Liberation Serif', 'Times New Roman', serif" font-size="93">0</text><text x="753.17" y="1321.8" font-family="'Liberation Serif', 'Times New Roman', serif" font-size="93">2</text><text x="1132.07" y="1321.8" font-family="'Liberation Serif', 'Times New Roman', serif" font-size="93">4</text><text x="1514.24" y="1321.8" font-family="'Liberation Serif', 'Times New Roman', serif" font-size="93">6</text><text x="1897.55" y="1321.8" font-family="'Liberation Serif', 'Times New Roman', serif" font-size="93">8</text><text x="2256.68" y="1321.8" font-family="'Liberation Serif', 'Times New Roman', serif" font-size="93">10</text><text x="940.03" y="185.5" font-family="'Liberation Serif', 'Times New Roman', serif" font-size="137">V </text><text transform="translate(1106.3,140.2) scale(1.1153,0.7883) translate(-38.7,45.49)" font-family="'Liberation Serif', 'Times New Roman', serif" font-size="137">=</text><text x="1176.55 1244.28 1275.35 1343.85 1371.65 1479.57 1518.41" y="185.5" font-family="'Liberation Serif', 'Times New Roman', serif" font-size="137">0.5 m/s</text><text transform="translate(1083.85,1469.2) scale(0.9737,1)" font-family="'Liberation Serif', 'Times New Roman', serif" font-size="122.5">Time (s)</text><text transform="translate(104.3,969.72) rotate(-90) scale(0.9654,1)" font-family="'Liberation Serif', 'Times New Roman', serif" font-size="121.5">Vertical (cm)</text></svg>
</body></html>
